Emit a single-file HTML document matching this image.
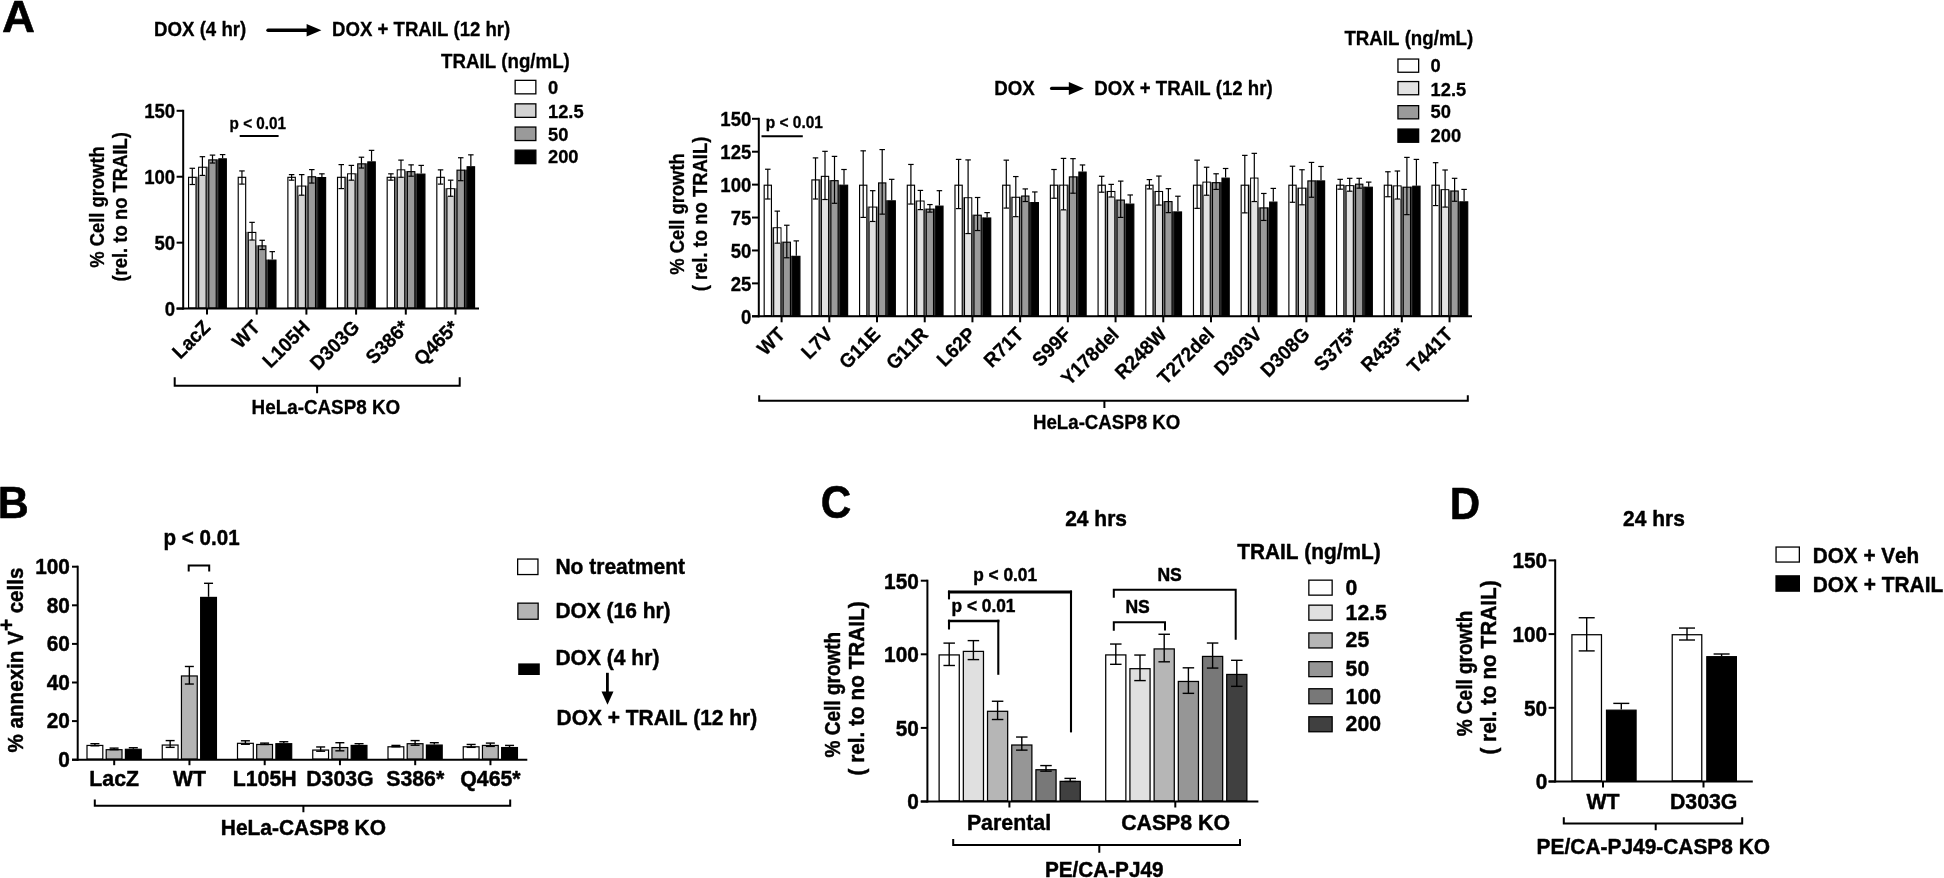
<!DOCTYPE html>
<html lang="en">
<head>
<meta charset="utf-8">
<title>Figure: CASP8 mutants and TRAIL sensitivity</title>
<style>
html,body{margin:0;padding:0;background:#fff;}
body{width:1944px;height:878px;overflow:hidden;}
svg{display:block;filter:blur(0.45px);}
svg text{font-family:"Liberation Sans",sans-serif;font-weight:bold;fill:#000;stroke:#000;stroke-width:0.3px;stroke-linejoin:round;font-kerning:none;}
svg text.big{stroke-width:0.6px;}
svg text.h{stroke-width:0.45px;}
</style>
</head>
<body>
<svg width="1944" height="878" viewBox="0 0 1944 878">
<rect x="0" y="0" width="1944" height="878" fill="#fff"/>
<text x="2.1" y="32.1" font-size="44.3" text-anchor="start" class="big" textLength="33" lengthAdjust="spacingAndGlyphs">A</text>
<text x="154" y="35.9" font-size="19.34" text-anchor="start" textLength="92.3" lengthAdjust="spacingAndGlyphs">DOX (4 hr)</text>
<line x1="268" y1="30.2" x2="307" y2="30.2" stroke="#000" stroke-width="3.4" stroke-linecap="round"/>
<polygon points="306.6,23.9 321.4,30.2 306.6,36.6" fill="#000"/>
<text x="332" y="35.9" font-size="19.34" text-anchor="start" textLength="178.3" lengthAdjust="spacingAndGlyphs">DOX + TRAIL (12 hr)</text>
<text x="441" y="67.6" font-size="19.34" text-anchor="start" textLength="128.8" lengthAdjust="spacingAndGlyphs">TRAIL (ng/mL)</text>
<rect x="515.15" y="80.35" width="20.7" height="13.5" fill="#fff" stroke="#000" stroke-width="1.3"/>
<text x="548" y="93.8" font-size="19.03" text-anchor="start" textLength="10.18" lengthAdjust="spacingAndGlyphs">0</text>
<rect x="515.15" y="103.85" width="20.7" height="13.5" fill="#d3d3d3" stroke="#000" stroke-width="1.3"/>
<text x="548" y="117.6" font-size="19.03" text-anchor="start" textLength="35.62" lengthAdjust="spacingAndGlyphs">12.5</text>
<rect x="515.15" y="127.05" width="20.7" height="13.5" fill="#9a9a9a" stroke="#000" stroke-width="1.3"/>
<text x="548" y="140.7" font-size="19.03" text-anchor="start" textLength="20.36" lengthAdjust="spacingAndGlyphs">50</text>
<rect x="515.15" y="150.15" width="20.7" height="13.5" fill="#000" stroke="#000" stroke-width="1.3"/>
<text x="548" y="163.3" font-size="19.03" text-anchor="start" textLength="30.53" lengthAdjust="spacingAndGlyphs">200</text>
<rect x="196.03" y="176.73" width="2.65" height="131.87" fill="#8c8c8c"/>
<rect x="206.12" y="166.71" width="2.65" height="141.89" fill="#7c7c7c"/>
<rect x="216.22" y="159.32" width="2.65" height="149.28" fill="#3c3c3c"/>
<rect x="188.57" y="177.31" width="7.45" height="130.72" fill="#fff" stroke="#000" stroke-width="1.15"/>
<rect x="198.67" y="167.28" width="7.45" height="140.74" fill="#d3d3d3" stroke="#000" stroke-width="1.15"/>
<rect x="199.25" y="167.86" width="6.3" height="7.55" fill="#fff"/>
<rect x="208.77" y="159.9" width="7.45" height="148.13" fill="#9a9a9a" stroke="#000" stroke-width="1.15"/>
<rect x="218.88" y="158.84" width="7.45" height="149.18" fill="#000" stroke="#000" stroke-width="1.15"/>
<line x1="192.3" y1="168.29" x2="192.3" y2="184.51" stroke="#000" stroke-width="1.2" stroke-linecap="butt"/>
<line x1="189.55" y1="168.29" x2="195.05" y2="168.29" stroke="#000" stroke-width="1.2" stroke-linecap="butt"/>
<line x1="189.55" y1="184.51" x2="195.05" y2="184.51" stroke="#000" stroke-width="1.2" stroke-linecap="butt"/>
<line x1="202.4" y1="156.69" x2="202.4" y2="175.41" stroke="#000" stroke-width="1.2" stroke-linecap="butt"/>
<line x1="199.65" y1="156.69" x2="205.15" y2="156.69" stroke="#000" stroke-width="1.2" stroke-linecap="butt"/>
<line x1="199.65" y1="175.41" x2="205.15" y2="175.41" stroke="#000" stroke-width="1.2" stroke-linecap="butt"/>
<line x1="212.5" y1="155.1" x2="212.5" y2="163.02" stroke="#000" stroke-width="1.2" stroke-linecap="butt"/>
<line x1="209.75" y1="155.1" x2="215.25" y2="155.1" stroke="#000" stroke-width="1.2" stroke-linecap="butt"/>
<line x1="209.75" y1="163.02" x2="215.25" y2="163.02" stroke="#000" stroke-width="1.2" stroke-linecap="butt"/>
<line x1="222.6" y1="154.58" x2="222.6" y2="158.27" stroke="#000" stroke-width="1.2" stroke-linecap="butt"/>
<line x1="219.85" y1="154.58" x2="225.35" y2="154.58" stroke="#000" stroke-width="1.2" stroke-linecap="butt"/>
<rect x="245.68" y="231.85" width="2.65" height="76.75" fill="#8c8c8c"/>
<rect x="255.78" y="245.3" width="2.65" height="63.3" fill="#7c7c7c"/>
<rect x="265.88" y="259.54" width="2.65" height="49.06" fill="#3c3c3c"/>
<rect x="238.22" y="177.31" width="7.45" height="130.72" fill="#fff" stroke="#000" stroke-width="1.15"/>
<rect x="248.32" y="232.43" width="7.45" height="75.6" fill="#d3d3d3" stroke="#000" stroke-width="1.15"/>
<rect x="248.9" y="233" width="6.3" height="7.03" fill="#fff"/>
<rect x="258.43" y="245.88" width="7.45" height="62.15" fill="#9a9a9a" stroke="#000" stroke-width="1.15"/>
<rect x="268.52" y="260.12" width="7.45" height="47.91" fill="#000" stroke="#000" stroke-width="1.15"/>
<line x1="241.95" y1="170.93" x2="241.95" y2="184.11" stroke="#000" stroke-width="1.2" stroke-linecap="butt"/>
<line x1="239.2" y1="170.93" x2="244.7" y2="170.93" stroke="#000" stroke-width="1.2" stroke-linecap="butt"/>
<line x1="239.2" y1="184.11" x2="244.7" y2="184.11" stroke="#000" stroke-width="1.2" stroke-linecap="butt"/>
<line x1="252.05" y1="222.36" x2="252.05" y2="240.03" stroke="#000" stroke-width="1.2" stroke-linecap="butt"/>
<line x1="249.3" y1="222.36" x2="254.8" y2="222.36" stroke="#000" stroke-width="1.2" stroke-linecap="butt"/>
<line x1="249.3" y1="240.03" x2="254.8" y2="240.03" stroke="#000" stroke-width="1.2" stroke-linecap="butt"/>
<line x1="262.15" y1="240.29" x2="262.15" y2="249.52" stroke="#000" stroke-width="1.2" stroke-linecap="butt"/>
<line x1="259.4" y1="240.29" x2="264.9" y2="240.29" stroke="#000" stroke-width="1.2" stroke-linecap="butt"/>
<line x1="259.4" y1="249.52" x2="264.9" y2="249.52" stroke="#000" stroke-width="1.2" stroke-linecap="butt"/>
<line x1="272.25" y1="251.63" x2="272.25" y2="259.54" stroke="#000" stroke-width="1.2" stroke-linecap="butt"/>
<line x1="269.5" y1="251.63" x2="275" y2="251.63" stroke="#000" stroke-width="1.2" stroke-linecap="butt"/>
<rect x="295.33" y="185.57" width="2.65" height="123.03" fill="#8c8c8c"/>
<rect x="305.43" y="185.57" width="2.65" height="123.03" fill="#7c7c7c"/>
<rect x="315.53" y="176.99" width="2.65" height="131.61" fill="#3c3c3c"/>
<rect x="287.88" y="177.31" width="7.45" height="130.72" fill="#fff" stroke="#000" stroke-width="1.15"/>
<rect x="297.98" y="186.14" width="7.45" height="121.88" fill="#d3d3d3" stroke="#000" stroke-width="1.15"/>
<rect x="298.55" y="186.72" width="6.3" height="8.48" fill="#fff"/>
<rect x="308.07" y="176.78" width="7.45" height="131.25" fill="#9a9a9a" stroke="#000" stroke-width="1.15"/>
<rect x="318.18" y="177.57" width="7.45" height="130.46" fill="#000" stroke="#000" stroke-width="1.15"/>
<line x1="291.6" y1="174.62" x2="291.6" y2="180.16" stroke="#000" stroke-width="1.2" stroke-linecap="butt"/>
<line x1="288.85" y1="174.62" x2="294.35" y2="174.62" stroke="#000" stroke-width="1.2" stroke-linecap="butt"/>
<line x1="288.85" y1="180.16" x2="294.35" y2="180.16" stroke="#000" stroke-width="1.2" stroke-linecap="butt"/>
<line x1="301.7" y1="174.62" x2="301.7" y2="195.19" stroke="#000" stroke-width="1.2" stroke-linecap="butt"/>
<line x1="298.95" y1="174.62" x2="304.45" y2="174.62" stroke="#000" stroke-width="1.2" stroke-linecap="butt"/>
<line x1="298.95" y1="195.19" x2="304.45" y2="195.19" stroke="#000" stroke-width="1.2" stroke-linecap="butt"/>
<line x1="311.8" y1="169.61" x2="311.8" y2="183.06" stroke="#000" stroke-width="1.2" stroke-linecap="butt"/>
<line x1="309.05" y1="169.61" x2="314.55" y2="169.61" stroke="#000" stroke-width="1.2" stroke-linecap="butt"/>
<line x1="309.05" y1="183.06" x2="314.55" y2="183.06" stroke="#000" stroke-width="1.2" stroke-linecap="butt"/>
<line x1="321.9" y1="173.83" x2="321.9" y2="176.99" stroke="#000" stroke-width="1.2" stroke-linecap="butt"/>
<line x1="319.15" y1="173.83" x2="324.65" y2="173.83" stroke="#000" stroke-width="1.2" stroke-linecap="butt"/>
<rect x="344.98" y="176.73" width="2.65" height="131.87" fill="#8c8c8c"/>
<rect x="355.08" y="173.3" width="2.65" height="135.3" fill="#7c7c7c"/>
<rect x="365.18" y="163.28" width="2.65" height="145.32" fill="#3c3c3c"/>
<rect x="337.52" y="177.31" width="7.45" height="130.72" fill="#fff" stroke="#000" stroke-width="1.15"/>
<rect x="347.62" y="173.88" width="7.45" height="134.15" fill="#d3d3d3" stroke="#000" stroke-width="1.15"/>
<rect x="348.2" y="174.45" width="6.3" height="5.71" fill="#fff"/>
<rect x="357.72" y="163.85" width="7.45" height="144.17" fill="#9a9a9a" stroke="#000" stroke-width="1.15"/>
<rect x="367.82" y="161.88" width="7.45" height="146.15" fill="#000" stroke="#000" stroke-width="1.15"/>
<line x1="341.25" y1="164.6" x2="341.25" y2="188.6" stroke="#000" stroke-width="1.2" stroke-linecap="butt"/>
<line x1="338.5" y1="164.6" x2="344" y2="164.6" stroke="#000" stroke-width="1.2" stroke-linecap="butt"/>
<line x1="338.5" y1="188.6" x2="344" y2="188.6" stroke="#000" stroke-width="1.2" stroke-linecap="butt"/>
<line x1="351.35" y1="165.39" x2="351.35" y2="180.16" stroke="#000" stroke-width="1.2" stroke-linecap="butt"/>
<line x1="348.6" y1="165.39" x2="354.1" y2="165.39" stroke="#000" stroke-width="1.2" stroke-linecap="butt"/>
<line x1="348.6" y1="180.16" x2="354.1" y2="180.16" stroke="#000" stroke-width="1.2" stroke-linecap="butt"/>
<line x1="361.45" y1="157.21" x2="361.45" y2="168.03" stroke="#000" stroke-width="1.2" stroke-linecap="butt"/>
<line x1="358.7" y1="157.21" x2="364.2" y2="157.21" stroke="#000" stroke-width="1.2" stroke-linecap="butt"/>
<line x1="358.7" y1="168.03" x2="364.2" y2="168.03" stroke="#000" stroke-width="1.2" stroke-linecap="butt"/>
<line x1="371.55" y1="150.36" x2="371.55" y2="161.3" stroke="#000" stroke-width="1.2" stroke-linecap="butt"/>
<line x1="368.8" y1="150.36" x2="374.3" y2="150.36" stroke="#000" stroke-width="1.2" stroke-linecap="butt"/>
<rect x="394.63" y="176.73" width="2.65" height="131.87" fill="#8c8c8c"/>
<rect x="404.73" y="171.06" width="2.65" height="137.54" fill="#7c7c7c"/>
<rect x="414.83" y="173.57" width="2.65" height="135.03" fill="#3c3c3c"/>
<rect x="387.18" y="177.31" width="7.45" height="130.72" fill="#fff" stroke="#000" stroke-width="1.15"/>
<rect x="397.28" y="169.92" width="7.45" height="138.1" fill="#d3d3d3" stroke="#000" stroke-width="1.15"/>
<rect x="397.85" y="170.5" width="6.3" height="6.76" fill="#fff"/>
<rect x="407.38" y="171.63" width="7.45" height="136.39" fill="#9a9a9a" stroke="#000" stroke-width="1.15"/>
<rect x="417.48" y="174.14" width="7.45" height="133.88" fill="#000" stroke="#000" stroke-width="1.15"/>
<line x1="390.9" y1="173.83" x2="390.9" y2="180.16" stroke="#000" stroke-width="1.2" stroke-linecap="butt"/>
<line x1="388.15" y1="173.83" x2="393.65" y2="173.83" stroke="#000" stroke-width="1.2" stroke-linecap="butt"/>
<line x1="388.15" y1="180.16" x2="393.65" y2="180.16" stroke="#000" stroke-width="1.2" stroke-linecap="butt"/>
<line x1="401" y1="160.11" x2="401" y2="177.26" stroke="#000" stroke-width="1.2" stroke-linecap="butt"/>
<line x1="398.25" y1="160.11" x2="403.75" y2="160.11" stroke="#000" stroke-width="1.2" stroke-linecap="butt"/>
<line x1="398.25" y1="177.26" x2="403.75" y2="177.26" stroke="#000" stroke-width="1.2" stroke-linecap="butt"/>
<line x1="411.1" y1="164.86" x2="411.1" y2="176.2" stroke="#000" stroke-width="1.2" stroke-linecap="butt"/>
<line x1="408.35" y1="164.86" x2="413.85" y2="164.86" stroke="#000" stroke-width="1.2" stroke-linecap="butt"/>
<line x1="408.35" y1="176.2" x2="413.85" y2="176.2" stroke="#000" stroke-width="1.2" stroke-linecap="butt"/>
<line x1="421.2" y1="165.39" x2="421.2" y2="173.57" stroke="#000" stroke-width="1.2" stroke-linecap="butt"/>
<line x1="418.45" y1="165.39" x2="423.95" y2="165.39" stroke="#000" stroke-width="1.2" stroke-linecap="butt"/>
<rect x="444.28" y="188.2" width="2.65" height="120.4" fill="#8c8c8c"/>
<rect x="454.38" y="188.2" width="2.65" height="120.4" fill="#7c7c7c"/>
<rect x="464.48" y="169.61" width="2.65" height="138.99" fill="#3c3c3c"/>
<rect x="436.82" y="177.31" width="7.45" height="130.72" fill="#fff" stroke="#000" stroke-width="1.15"/>
<rect x="446.93" y="188.78" width="7.45" height="119.25" fill="#d3d3d3" stroke="#000" stroke-width="1.15"/>
<rect x="447.5" y="189.35" width="6.3" height="6.89" fill="#fff"/>
<rect x="457.02" y="170.18" width="7.45" height="137.84" fill="#9a9a9a" stroke="#000" stroke-width="1.15"/>
<rect x="467.12" y="166.76" width="7.45" height="141.27" fill="#000" stroke="#000" stroke-width="1.15"/>
<line x1="440.55" y1="169.87" x2="440.55" y2="184.11" stroke="#000" stroke-width="1.2" stroke-linecap="butt"/>
<line x1="437.8" y1="169.87" x2="443.3" y2="169.87" stroke="#000" stroke-width="1.2" stroke-linecap="butt"/>
<line x1="437.8" y1="184.11" x2="443.3" y2="184.11" stroke="#000" stroke-width="1.2" stroke-linecap="butt"/>
<line x1="450.65" y1="180.16" x2="450.65" y2="196.25" stroke="#000" stroke-width="1.2" stroke-linecap="butt"/>
<line x1="447.9" y1="180.16" x2="453.4" y2="180.16" stroke="#000" stroke-width="1.2" stroke-linecap="butt"/>
<line x1="447.9" y1="196.25" x2="453.4" y2="196.25" stroke="#000" stroke-width="1.2" stroke-linecap="butt"/>
<line x1="460.75" y1="157.74" x2="460.75" y2="180.69" stroke="#000" stroke-width="1.2" stroke-linecap="butt"/>
<line x1="458" y1="157.74" x2="463.5" y2="157.74" stroke="#000" stroke-width="1.2" stroke-linecap="butt"/>
<line x1="458" y1="180.69" x2="463.5" y2="180.69" stroke="#000" stroke-width="1.2" stroke-linecap="butt"/>
<line x1="470.85" y1="154.84" x2="470.85" y2="166.18" stroke="#000" stroke-width="1.2" stroke-linecap="butt"/>
<line x1="468.1" y1="154.84" x2="473.6" y2="154.84" stroke="#000" stroke-width="1.2" stroke-linecap="butt"/>
<line x1="183.2" y1="109.8" x2="183.2" y2="309.6" stroke="#000" stroke-width="2" stroke-linecap="butt"/>
<line x1="176.6" y1="308.6" x2="479" y2="308.6" stroke="#000" stroke-width="2" stroke-linecap="butt"/>
<line x1="176.6" y1="308.6" x2="183.2" y2="308.6" stroke="#000" stroke-width="2" stroke-linecap="butt"/>
<text x="175.2" y="315.8" font-size="19.34" text-anchor="end" textLength="10.34" lengthAdjust="spacingAndGlyphs">0</text>
<line x1="176.6" y1="242.67" x2="183.2" y2="242.67" stroke="#000" stroke-width="2" stroke-linecap="butt"/>
<text x="175.2" y="249.87" font-size="19.34" text-anchor="end" textLength="20.69" lengthAdjust="spacingAndGlyphs">50</text>
<line x1="176.6" y1="176.73" x2="183.2" y2="176.73" stroke="#000" stroke-width="2" stroke-linecap="butt"/>
<text x="175.2" y="183.93" font-size="19.34" text-anchor="end" textLength="31.03" lengthAdjust="spacingAndGlyphs">100</text>
<line x1="176.6" y1="110.8" x2="183.2" y2="110.8" stroke="#000" stroke-width="2" stroke-linecap="butt"/>
<text x="175.2" y="118" font-size="19.34" text-anchor="end" textLength="31.03" lengthAdjust="spacingAndGlyphs">150</text>
<line x1="207" y1="308.6" x2="207" y2="314.6" stroke="#000" stroke-width="2" stroke-linecap="butt"/>
<line x1="256.7" y1="308.6" x2="256.7" y2="314.6" stroke="#000" stroke-width="2" stroke-linecap="butt"/>
<line x1="306.4" y1="308.6" x2="306.4" y2="314.6" stroke="#000" stroke-width="2" stroke-linecap="butt"/>
<line x1="356.1" y1="308.6" x2="356.1" y2="314.6" stroke="#000" stroke-width="2" stroke-linecap="butt"/>
<line x1="405.8" y1="308.6" x2="405.8" y2="314.6" stroke="#000" stroke-width="2" stroke-linecap="butt"/>
<line x1="455.5" y1="308.6" x2="455.5" y2="314.6" stroke="#000" stroke-width="2" stroke-linecap="butt"/>
<text x="229.6" y="129" font-size="16.22" text-anchor="start" textLength="56.5" lengthAdjust="spacingAndGlyphs">p &lt; 0.01</text>
<line x1="239.7" y1="136" x2="278.6" y2="136" stroke="#000" stroke-width="2" stroke-linecap="butt"/>
<text x="211.55" y="328.65" font-size="19.76" text-anchor="end" transform="rotate(-45 211.55 328.65)" textLength="44.35" lengthAdjust="spacingAndGlyphs">LacZ</text>
<text x="261.25" y="328.65" font-size="19.76" text-anchor="end" transform="rotate(-45 261.25 328.65)" textLength="29.54" lengthAdjust="spacingAndGlyphs">WT</text>
<text x="310.95" y="328.65" font-size="19.76" text-anchor="end" transform="rotate(-45 310.95 328.65)" textLength="57.03" lengthAdjust="spacingAndGlyphs">L105H</text>
<text x="360.65" y="328.65" font-size="19.76" text-anchor="end" transform="rotate(-45 360.65 328.65)" textLength="60.2" lengthAdjust="spacingAndGlyphs">D303G</text>
<text x="410.35" y="328.65" font-size="19.76" text-anchor="end" transform="rotate(-45 410.35 328.65)" textLength="51.77" lengthAdjust="spacingAndGlyphs">S386*</text>
<text x="460.05" y="328.65" font-size="19.76" text-anchor="end" transform="rotate(-45 460.05 328.65)" textLength="53.87" lengthAdjust="spacingAndGlyphs">Q465*</text>
<path d="M174.7 377.3 V385.8 H459.7 V377.3 M317.1 385.8 V393.3" fill="none" stroke="#000" stroke-width="2"/>
<text x="251.6" y="413.7" font-size="19.34" text-anchor="start" textLength="148.6" lengthAdjust="spacingAndGlyphs">HeLa-CASP8 KO</text>
<text x="104.2" y="207" font-size="19.34" text-anchor="middle" transform="rotate(-90 104.2 207)" textLength="121.5" lengthAdjust="spacingAndGlyphs">% Cell growth</text>
<text x="126.6" y="206.8" font-size="19.34" text-anchor="middle" transform="rotate(-90 126.6 206.8)" textLength="149.6" lengthAdjust="spacingAndGlyphs">(rel. to no TRAIL)</text>
<text x="994.2" y="94.9" font-size="19.34" text-anchor="start" textLength="40.5" lengthAdjust="spacingAndGlyphs">DOX</text>
<line x1="1051.6" y1="88.4" x2="1070" y2="88.4" stroke="#000" stroke-width="3.3" stroke-linecap="round"/>
<polygon points="1068.8,82 1083.9,88.5 1068.8,95" fill="#000"/>
<text x="1094.3" y="94.9" font-size="19.34" text-anchor="start" textLength="178.3" lengthAdjust="spacingAndGlyphs">DOX + TRAIL (12 hr)</text>
<text x="1344.4" y="45.1" font-size="19.34" text-anchor="start" textLength="128.8" lengthAdjust="spacingAndGlyphs">TRAIL (ng/mL)</text>
<rect x="1397.95" y="59.05" width="20.7" height="13.2" fill="#fff" stroke="#000" stroke-width="1.3"/>
<text x="1430.6" y="72.3" font-size="19.03" text-anchor="start" textLength="10.18" lengthAdjust="spacingAndGlyphs">0</text>
<rect x="1397.95" y="81.55" width="20.7" height="13.2" fill="#e2e2e2" stroke="#000" stroke-width="1.3"/>
<text x="1430.6" y="95.6" font-size="19.03" text-anchor="start" textLength="35.62" lengthAdjust="spacingAndGlyphs">12.5</text>
<rect x="1397.95" y="105.65" width="20.7" height="13.2" fill="#9a9a9a" stroke="#000" stroke-width="1.3"/>
<text x="1430.6" y="118.2" font-size="19.03" text-anchor="start" textLength="20.36" lengthAdjust="spacingAndGlyphs">50</text>
<rect x="1397.95" y="129.05" width="20.7" height="13.2" fill="#000" stroke="#000" stroke-width="1.3"/>
<text x="1430.6" y="142.2" font-size="19.03" text-anchor="start" textLength="30.53" lengthAdjust="spacingAndGlyphs">200</text>
<rect x="771.42" y="227.26" width="2.25" height="89.04" fill="#8c8c8c"/>
<rect x="780.92" y="241.64" width="2.25" height="74.66" fill="#7c7c7c"/>
<rect x="790.42" y="255.76" width="2.25" height="60.54" fill="#3c3c3c"/>
<rect x="764.18" y="185.21" width="7.25" height="130.52" fill="#fff" stroke="#000" stroke-width="1.15"/>
<rect x="773.68" y="227.83" width="7.25" height="87.89" fill="#e2e2e2" stroke="#000" stroke-width="1.15"/>
<rect x="774.25" y="228.41" width="6.1" height="14.74" fill="#fff"/>
<rect x="783.18" y="242.21" width="7.25" height="73.51" fill="#9a9a9a" stroke="#000" stroke-width="1.15"/>
<rect x="792.68" y="256.34" width="7.25" height="59.39" fill="#000" stroke="#000" stroke-width="1.15"/>
<line x1="767.8" y1="169.24" x2="767.8" y2="199.01" stroke="#000" stroke-width="1.2" stroke-linecap="butt"/>
<line x1="765.05" y1="169.24" x2="770.55" y2="169.24" stroke="#000" stroke-width="1.2" stroke-linecap="butt"/>
<line x1="765.05" y1="199.01" x2="770.55" y2="199.01" stroke="#000" stroke-width="1.2" stroke-linecap="butt"/>
<line x1="777.3" y1="211.12" x2="777.3" y2="243.15" stroke="#000" stroke-width="1.2" stroke-linecap="butt"/>
<line x1="774.55" y1="211.12" x2="780.05" y2="211.12" stroke="#000" stroke-width="1.2" stroke-linecap="butt"/>
<line x1="774.55" y1="243.15" x2="780.05" y2="243.15" stroke="#000" stroke-width="1.2" stroke-linecap="butt"/>
<line x1="786.8" y1="225.24" x2="786.8" y2="257.78" stroke="#000" stroke-width="1.2" stroke-linecap="butt"/>
<line x1="784.05" y1="225.24" x2="789.55" y2="225.24" stroke="#000" stroke-width="1.2" stroke-linecap="butt"/>
<line x1="784.05" y1="257.78" x2="789.55" y2="257.78" stroke="#000" stroke-width="1.2" stroke-linecap="butt"/>
<line x1="796.3" y1="240.88" x2="796.3" y2="255.76" stroke="#000" stroke-width="1.2" stroke-linecap="butt"/>
<line x1="793.55" y1="240.88" x2="799.05" y2="240.88" stroke="#000" stroke-width="1.2" stroke-linecap="butt"/>
<rect x="819.12" y="179.33" width="2.25" height="136.97" fill="#8c8c8c"/>
<rect x="828.62" y="180.09" width="2.25" height="136.21" fill="#7c7c7c"/>
<rect x="838.12" y="184.63" width="2.25" height="131.67" fill="#3c3c3c"/>
<rect x="811.88" y="179.91" width="7.25" height="135.82" fill="#fff" stroke="#000" stroke-width="1.15"/>
<rect x="821.38" y="176.38" width="7.25" height="139.35" fill="#e2e2e2" stroke="#000" stroke-width="1.15"/>
<rect x="821.95" y="176.95" width="6.1" height="22.56" fill="#fff"/>
<rect x="830.88" y="180.66" width="7.25" height="135.06" fill="#9a9a9a" stroke="#000" stroke-width="1.15"/>
<rect x="840.38" y="185.21" width="7.25" height="130.52" fill="#000" stroke="#000" stroke-width="1.15"/>
<line x1="815.5" y1="157.89" x2="815.5" y2="199.01" stroke="#000" stroke-width="1.2" stroke-linecap="butt"/>
<line x1="812.75" y1="157.89" x2="818.25" y2="157.89" stroke="#000" stroke-width="1.2" stroke-linecap="butt"/>
<line x1="812.75" y1="199.01" x2="818.25" y2="199.01" stroke="#000" stroke-width="1.2" stroke-linecap="butt"/>
<line x1="825" y1="151.33" x2="825" y2="199.51" stroke="#000" stroke-width="1.2" stroke-linecap="butt"/>
<line x1="822.25" y1="151.33" x2="827.75" y2="151.33" stroke="#000" stroke-width="1.2" stroke-linecap="butt"/>
<line x1="822.25" y1="199.51" x2="827.75" y2="199.51" stroke="#000" stroke-width="1.2" stroke-linecap="butt"/>
<line x1="834.5" y1="156.38" x2="834.5" y2="203.3" stroke="#000" stroke-width="1.2" stroke-linecap="butt"/>
<line x1="831.75" y1="156.38" x2="837.25" y2="156.38" stroke="#000" stroke-width="1.2" stroke-linecap="butt"/>
<line x1="831.75" y1="203.3" x2="837.25" y2="203.3" stroke="#000" stroke-width="1.2" stroke-linecap="butt"/>
<line x1="844" y1="169.5" x2="844" y2="184.63" stroke="#000" stroke-width="1.2" stroke-linecap="butt"/>
<line x1="841.25" y1="169.5" x2="846.75" y2="169.5" stroke="#000" stroke-width="1.2" stroke-linecap="butt"/>
<rect x="866.82" y="206.57" width="2.25" height="109.73" fill="#8c8c8c"/>
<rect x="876.32" y="206.57" width="2.25" height="109.73" fill="#7c7c7c"/>
<rect x="885.82" y="200.27" width="2.25" height="116.03" fill="#3c3c3c"/>
<rect x="859.58" y="185.21" width="7.25" height="130.52" fill="#fff" stroke="#000" stroke-width="1.15"/>
<rect x="869.08" y="207.15" width="7.25" height="108.58" fill="#e2e2e2" stroke="#000" stroke-width="1.15"/>
<rect x="869.65" y="207.72" width="6.1" height="13.73" fill="#fff"/>
<rect x="878.58" y="182.93" width="7.25" height="132.79" fill="#9a9a9a" stroke="#000" stroke-width="1.15"/>
<rect x="888.08" y="200.84" width="7.25" height="114.88" fill="#000" stroke="#000" stroke-width="1.15"/>
<line x1="863.2" y1="150.83" x2="863.2" y2="217.42" stroke="#000" stroke-width="1.2" stroke-linecap="butt"/>
<line x1="860.45" y1="150.83" x2="865.95" y2="150.83" stroke="#000" stroke-width="1.2" stroke-linecap="butt"/>
<line x1="860.45" y1="217.42" x2="865.95" y2="217.42" stroke="#000" stroke-width="1.2" stroke-linecap="butt"/>
<line x1="872.7" y1="190.68" x2="872.7" y2="221.46" stroke="#000" stroke-width="1.2" stroke-linecap="butt"/>
<line x1="869.95" y1="190.68" x2="875.45" y2="190.68" stroke="#000" stroke-width="1.2" stroke-linecap="butt"/>
<line x1="869.95" y1="221.46" x2="875.45" y2="221.46" stroke="#000" stroke-width="1.2" stroke-linecap="butt"/>
<line x1="882.2" y1="149.57" x2="882.2" y2="214.14" stroke="#000" stroke-width="1.2" stroke-linecap="butt"/>
<line x1="879.45" y1="149.57" x2="884.95" y2="149.57" stroke="#000" stroke-width="1.2" stroke-linecap="butt"/>
<line x1="879.45" y1="214.14" x2="884.95" y2="214.14" stroke="#000" stroke-width="1.2" stroke-linecap="butt"/>
<line x1="891.7" y1="179.33" x2="891.7" y2="200.27" stroke="#000" stroke-width="1.2" stroke-linecap="butt"/>
<line x1="888.95" y1="179.33" x2="894.45" y2="179.33" stroke="#000" stroke-width="1.2" stroke-linecap="butt"/>
<rect x="914.52" y="200.52" width="2.25" height="115.78" fill="#8c8c8c"/>
<rect x="924.02" y="208.59" width="2.25" height="107.71" fill="#7c7c7c"/>
<rect x="933.52" y="208.59" width="2.25" height="107.71" fill="#3c3c3c"/>
<rect x="907.28" y="185.21" width="7.25" height="130.52" fill="#fff" stroke="#000" stroke-width="1.15"/>
<rect x="916.78" y="201.1" width="7.25" height="114.63" fill="#e2e2e2" stroke="#000" stroke-width="1.15"/>
<rect x="917.35" y="201.67" width="6.1" height="7.93" fill="#fff"/>
<rect x="926.28" y="209.17" width="7.25" height="106.56" fill="#9a9a9a" stroke="#000" stroke-width="1.15"/>
<rect x="935.78" y="206.14" width="7.25" height="109.58" fill="#000" stroke="#000" stroke-width="1.15"/>
<line x1="910.9" y1="164.45" x2="910.9" y2="204.05" stroke="#000" stroke-width="1.2" stroke-linecap="butt"/>
<line x1="908.15" y1="164.45" x2="913.65" y2="164.45" stroke="#000" stroke-width="1.2" stroke-linecap="butt"/>
<line x1="908.15" y1="204.05" x2="913.65" y2="204.05" stroke="#000" stroke-width="1.2" stroke-linecap="butt"/>
<line x1="920.4" y1="190.43" x2="920.4" y2="209.6" stroke="#000" stroke-width="1.2" stroke-linecap="butt"/>
<line x1="917.65" y1="190.43" x2="923.15" y2="190.43" stroke="#000" stroke-width="1.2" stroke-linecap="butt"/>
<line x1="917.65" y1="209.6" x2="923.15" y2="209.6" stroke="#000" stroke-width="1.2" stroke-linecap="butt"/>
<line x1="929.9" y1="204.56" x2="929.9" y2="212.12" stroke="#000" stroke-width="1.2" stroke-linecap="butt"/>
<line x1="927.15" y1="204.56" x2="932.65" y2="204.56" stroke="#000" stroke-width="1.2" stroke-linecap="butt"/>
<line x1="927.15" y1="212.12" x2="932.65" y2="212.12" stroke="#000" stroke-width="1.2" stroke-linecap="butt"/>
<line x1="939.4" y1="190.68" x2="939.4" y2="205.57" stroke="#000" stroke-width="1.2" stroke-linecap="butt"/>
<line x1="936.65" y1="190.68" x2="942.15" y2="190.68" stroke="#000" stroke-width="1.2" stroke-linecap="butt"/>
<rect x="962.23" y="197.24" width="2.25" height="119.06" fill="#8c8c8c"/>
<rect x="971.73" y="214.65" width="2.25" height="101.65" fill="#7c7c7c"/>
<rect x="981.23" y="217.42" width="2.25" height="98.88" fill="#3c3c3c"/>
<rect x="954.98" y="185.21" width="7.25" height="130.52" fill="#fff" stroke="#000" stroke-width="1.15"/>
<rect x="964.48" y="197.82" width="7.25" height="117.91" fill="#e2e2e2" stroke="#000" stroke-width="1.15"/>
<rect x="965.05" y="198.39" width="6.1" height="35.17" fill="#fff"/>
<rect x="973.98" y="215.22" width="7.25" height="100.5" fill="#9a9a9a" stroke="#000" stroke-width="1.15"/>
<rect x="983.48" y="218" width="7.25" height="97.73" fill="#000" stroke="#000" stroke-width="1.15"/>
<line x1="958.6" y1="159.41" x2="958.6" y2="208.59" stroke="#000" stroke-width="1.2" stroke-linecap="butt"/>
<line x1="955.85" y1="159.41" x2="961.35" y2="159.41" stroke="#000" stroke-width="1.2" stroke-linecap="butt"/>
<line x1="955.85" y1="208.59" x2="961.35" y2="208.59" stroke="#000" stroke-width="1.2" stroke-linecap="butt"/>
<line x1="968.1" y1="159.91" x2="968.1" y2="233.56" stroke="#000" stroke-width="1.2" stroke-linecap="butt"/>
<line x1="965.35" y1="159.91" x2="970.85" y2="159.91" stroke="#000" stroke-width="1.2" stroke-linecap="butt"/>
<line x1="965.35" y1="233.56" x2="970.85" y2="233.56" stroke="#000" stroke-width="1.2" stroke-linecap="butt"/>
<line x1="977.6" y1="197.49" x2="977.6" y2="230.54" stroke="#000" stroke-width="1.2" stroke-linecap="butt"/>
<line x1="974.85" y1="197.49" x2="980.35" y2="197.49" stroke="#000" stroke-width="1.2" stroke-linecap="butt"/>
<line x1="974.85" y1="230.54" x2="980.35" y2="230.54" stroke="#000" stroke-width="1.2" stroke-linecap="butt"/>
<line x1="987.1" y1="212.63" x2="987.1" y2="217.42" stroke="#000" stroke-width="1.2" stroke-linecap="butt"/>
<line x1="984.35" y1="212.63" x2="989.85" y2="212.63" stroke="#000" stroke-width="1.2" stroke-linecap="butt"/>
<rect x="1009.92" y="196.74" width="2.25" height="119.56" fill="#8c8c8c"/>
<rect x="1019.42" y="196.74" width="2.25" height="119.56" fill="#7c7c7c"/>
<rect x="1028.92" y="202.03" width="2.25" height="114.27" fill="#3c3c3c"/>
<rect x="1002.68" y="185.21" width="7.25" height="130.52" fill="#fff" stroke="#000" stroke-width="1.15"/>
<rect x="1012.18" y="197.31" width="7.25" height="118.41" fill="#e2e2e2" stroke="#000" stroke-width="1.15"/>
<rect x="1012.75" y="197.89" width="6.1" height="18.78" fill="#fff"/>
<rect x="1021.68" y="196.05" width="7.25" height="119.67" fill="#9a9a9a" stroke="#000" stroke-width="1.15"/>
<rect x="1031.17" y="202.61" width="7.25" height="113.12" fill="#000" stroke="#000" stroke-width="1.15"/>
<line x1="1006.3" y1="160.16" x2="1006.3" y2="208.09" stroke="#000" stroke-width="1.2" stroke-linecap="butt"/>
<line x1="1003.55" y1="160.16" x2="1009.05" y2="160.16" stroke="#000" stroke-width="1.2" stroke-linecap="butt"/>
<line x1="1003.55" y1="208.09" x2="1009.05" y2="208.09" stroke="#000" stroke-width="1.2" stroke-linecap="butt"/>
<line x1="1015.8" y1="176.56" x2="1015.8" y2="216.66" stroke="#000" stroke-width="1.2" stroke-linecap="butt"/>
<line x1="1013.05" y1="176.56" x2="1018.55" y2="176.56" stroke="#000" stroke-width="1.2" stroke-linecap="butt"/>
<line x1="1013.05" y1="216.66" x2="1018.55" y2="216.66" stroke="#000" stroke-width="1.2" stroke-linecap="butt"/>
<line x1="1025.3" y1="188.92" x2="1025.3" y2="201.53" stroke="#000" stroke-width="1.2" stroke-linecap="butt"/>
<line x1="1022.55" y1="188.92" x2="1028.05" y2="188.92" stroke="#000" stroke-width="1.2" stroke-linecap="butt"/>
<line x1="1022.55" y1="201.53" x2="1028.05" y2="201.53" stroke="#000" stroke-width="1.2" stroke-linecap="butt"/>
<line x1="1034.8" y1="191.95" x2="1034.8" y2="202.03" stroke="#000" stroke-width="1.2" stroke-linecap="butt"/>
<line x1="1032.05" y1="191.95" x2="1037.55" y2="191.95" stroke="#000" stroke-width="1.2" stroke-linecap="butt"/>
<rect x="1057.63" y="184.63" width="2.25" height="131.67" fill="#8c8c8c"/>
<rect x="1067.13" y="184.63" width="2.25" height="131.67" fill="#7c7c7c"/>
<rect x="1076.63" y="176.31" width="2.25" height="139.99" fill="#3c3c3c"/>
<rect x="1050.38" y="185.21" width="7.25" height="130.52" fill="#fff" stroke="#000" stroke-width="1.15"/>
<rect x="1059.88" y="185.21" width="7.25" height="130.52" fill="#e2e2e2" stroke="#000" stroke-width="1.15"/>
<rect x="1060.45" y="185.78" width="6.1" height="24.07" fill="#fff"/>
<rect x="1069.38" y="176.88" width="7.25" height="138.84" fill="#9a9a9a" stroke="#000" stroke-width="1.15"/>
<rect x="1078.88" y="172.09" width="7.25" height="143.64" fill="#000" stroke="#000" stroke-width="1.15"/>
<line x1="1054" y1="169.5" x2="1054" y2="198.25" stroke="#000" stroke-width="1.2" stroke-linecap="butt"/>
<line x1="1051.25" y1="169.5" x2="1056.75" y2="169.5" stroke="#000" stroke-width="1.2" stroke-linecap="butt"/>
<line x1="1051.25" y1="198.25" x2="1056.75" y2="198.25" stroke="#000" stroke-width="1.2" stroke-linecap="butt"/>
<line x1="1063.5" y1="158.4" x2="1063.5" y2="209.85" stroke="#000" stroke-width="1.2" stroke-linecap="butt"/>
<line x1="1060.75" y1="158.4" x2="1066.25" y2="158.4" stroke="#000" stroke-width="1.2" stroke-linecap="butt"/>
<line x1="1060.75" y1="209.85" x2="1066.25" y2="209.85" stroke="#000" stroke-width="1.2" stroke-linecap="butt"/>
<line x1="1073" y1="158.65" x2="1073" y2="193.21" stroke="#000" stroke-width="1.2" stroke-linecap="butt"/>
<line x1="1070.25" y1="158.65" x2="1075.75" y2="158.65" stroke="#000" stroke-width="1.2" stroke-linecap="butt"/>
<line x1="1070.25" y1="193.21" x2="1075.75" y2="193.21" stroke="#000" stroke-width="1.2" stroke-linecap="butt"/>
<line x1="1082.5" y1="164.96" x2="1082.5" y2="171.51" stroke="#000" stroke-width="1.2" stroke-linecap="butt"/>
<line x1="1079.75" y1="164.96" x2="1085.25" y2="164.96" stroke="#000" stroke-width="1.2" stroke-linecap="butt"/>
<rect x="1105.33" y="190.94" width="2.25" height="125.36" fill="#8c8c8c"/>
<rect x="1114.83" y="199.51" width="2.25" height="116.79" fill="#7c7c7c"/>
<rect x="1124.33" y="203.55" width="2.25" height="112.75" fill="#3c3c3c"/>
<rect x="1098.08" y="185.21" width="7.25" height="130.52" fill="#fff" stroke="#000" stroke-width="1.15"/>
<rect x="1107.58" y="191.51" width="7.25" height="124.21" fill="#e2e2e2" stroke="#000" stroke-width="1.15"/>
<rect x="1108.15" y="192.09" width="6.1" height="4.9" fill="#fff"/>
<rect x="1117.08" y="200.09" width="7.25" height="115.64" fill="#9a9a9a" stroke="#000" stroke-width="1.15"/>
<rect x="1126.58" y="204.12" width="7.25" height="111.6" fill="#000" stroke="#000" stroke-width="1.15"/>
<line x1="1101.7" y1="176.31" x2="1101.7" y2="192.2" stroke="#000" stroke-width="1.2" stroke-linecap="butt"/>
<line x1="1098.95" y1="176.31" x2="1104.45" y2="176.31" stroke="#000" stroke-width="1.2" stroke-linecap="butt"/>
<line x1="1098.95" y1="192.2" x2="1104.45" y2="192.2" stroke="#000" stroke-width="1.2" stroke-linecap="butt"/>
<line x1="1111.2" y1="184.38" x2="1111.2" y2="196.99" stroke="#000" stroke-width="1.2" stroke-linecap="butt"/>
<line x1="1108.45" y1="184.38" x2="1113.95" y2="184.38" stroke="#000" stroke-width="1.2" stroke-linecap="butt"/>
<line x1="1108.45" y1="196.99" x2="1113.95" y2="196.99" stroke="#000" stroke-width="1.2" stroke-linecap="butt"/>
<line x1="1120.7" y1="181.1" x2="1120.7" y2="217.42" stroke="#000" stroke-width="1.2" stroke-linecap="butt"/>
<line x1="1117.95" y1="181.1" x2="1123.45" y2="181.1" stroke="#000" stroke-width="1.2" stroke-linecap="butt"/>
<line x1="1117.95" y1="217.42" x2="1123.45" y2="217.42" stroke="#000" stroke-width="1.2" stroke-linecap="butt"/>
<line x1="1130.2" y1="194.97" x2="1130.2" y2="203.55" stroke="#000" stroke-width="1.2" stroke-linecap="butt"/>
<line x1="1127.45" y1="194.97" x2="1132.95" y2="194.97" stroke="#000" stroke-width="1.2" stroke-linecap="butt"/>
<rect x="1153.03" y="190.94" width="2.25" height="125.36" fill="#8c8c8c"/>
<rect x="1162.53" y="201.03" width="2.25" height="115.27" fill="#7c7c7c"/>
<rect x="1172.03" y="211.37" width="2.25" height="104.93" fill="#3c3c3c"/>
<rect x="1145.78" y="185.21" width="7.25" height="130.52" fill="#fff" stroke="#000" stroke-width="1.15"/>
<rect x="1155.28" y="191.51" width="7.25" height="124.21" fill="#e2e2e2" stroke="#000" stroke-width="1.15"/>
<rect x="1155.85" y="192.09" width="6.1" height="12.98" fill="#fff"/>
<rect x="1164.78" y="201.6" width="7.25" height="114.12" fill="#9a9a9a" stroke="#000" stroke-width="1.15"/>
<rect x="1174.28" y="211.94" width="7.25" height="103.78" fill="#000" stroke="#000" stroke-width="1.15"/>
<line x1="1149.4" y1="179.59" x2="1149.4" y2="188.92" stroke="#000" stroke-width="1.2" stroke-linecap="butt"/>
<line x1="1146.65" y1="179.59" x2="1152.15" y2="179.59" stroke="#000" stroke-width="1.2" stroke-linecap="butt"/>
<line x1="1146.65" y1="188.92" x2="1152.15" y2="188.92" stroke="#000" stroke-width="1.2" stroke-linecap="butt"/>
<line x1="1158.9" y1="176.05" x2="1158.9" y2="205.06" stroke="#000" stroke-width="1.2" stroke-linecap="butt"/>
<line x1="1156.15" y1="176.05" x2="1161.65" y2="176.05" stroke="#000" stroke-width="1.2" stroke-linecap="butt"/>
<line x1="1156.15" y1="205.06" x2="1161.65" y2="205.06" stroke="#000" stroke-width="1.2" stroke-linecap="butt"/>
<line x1="1168.4" y1="188.67" x2="1168.4" y2="212.63" stroke="#000" stroke-width="1.2" stroke-linecap="butt"/>
<line x1="1165.65" y1="188.67" x2="1171.15" y2="188.67" stroke="#000" stroke-width="1.2" stroke-linecap="butt"/>
<line x1="1165.65" y1="212.63" x2="1171.15" y2="212.63" stroke="#000" stroke-width="1.2" stroke-linecap="butt"/>
<line x1="1177.9" y1="196.23" x2="1177.9" y2="211.37" stroke="#000" stroke-width="1.2" stroke-linecap="butt"/>
<line x1="1175.15" y1="196.23" x2="1180.65" y2="196.23" stroke="#000" stroke-width="1.2" stroke-linecap="butt"/>
<rect x="1200.73" y="184.63" width="2.25" height="131.67" fill="#8c8c8c"/>
<rect x="1210.23" y="182.11" width="2.25" height="134.19" fill="#7c7c7c"/>
<rect x="1219.73" y="182.11" width="2.25" height="134.19" fill="#3c3c3c"/>
<rect x="1193.48" y="185.21" width="7.25" height="130.52" fill="#fff" stroke="#000" stroke-width="1.15"/>
<rect x="1202.98" y="182.18" width="7.25" height="133.55" fill="#e2e2e2" stroke="#000" stroke-width="1.15"/>
<rect x="1203.55" y="182.75" width="6.1" height="12.47" fill="#fff"/>
<rect x="1212.48" y="182.68" width="7.25" height="133.04" fill="#9a9a9a" stroke="#000" stroke-width="1.15"/>
<rect x="1221.98" y="178.14" width="7.25" height="137.58" fill="#000" stroke="#000" stroke-width="1.15"/>
<line x1="1197.1" y1="160.16" x2="1197.1" y2="208.34" stroke="#000" stroke-width="1.2" stroke-linecap="butt"/>
<line x1="1194.35" y1="160.16" x2="1199.85" y2="160.16" stroke="#000" stroke-width="1.2" stroke-linecap="butt"/>
<line x1="1194.35" y1="208.34" x2="1199.85" y2="208.34" stroke="#000" stroke-width="1.2" stroke-linecap="butt"/>
<line x1="1206.6" y1="167.23" x2="1206.6" y2="195.22" stroke="#000" stroke-width="1.2" stroke-linecap="butt"/>
<line x1="1203.85" y1="167.23" x2="1209.35" y2="167.23" stroke="#000" stroke-width="1.2" stroke-linecap="butt"/>
<line x1="1203.85" y1="195.22" x2="1209.35" y2="195.22" stroke="#000" stroke-width="1.2" stroke-linecap="butt"/>
<line x1="1216.1" y1="173.78" x2="1216.1" y2="189.42" stroke="#000" stroke-width="1.2" stroke-linecap="butt"/>
<line x1="1213.35" y1="173.78" x2="1218.85" y2="173.78" stroke="#000" stroke-width="1.2" stroke-linecap="butt"/>
<line x1="1213.35" y1="189.42" x2="1218.85" y2="189.42" stroke="#000" stroke-width="1.2" stroke-linecap="butt"/>
<line x1="1225.6" y1="168.49" x2="1225.6" y2="177.57" stroke="#000" stroke-width="1.2" stroke-linecap="butt"/>
<line x1="1222.85" y1="168.49" x2="1228.35" y2="168.49" stroke="#000" stroke-width="1.2" stroke-linecap="butt"/>
<rect x="1248.42" y="184.63" width="2.25" height="131.67" fill="#8c8c8c"/>
<rect x="1257.92" y="207.33" width="2.25" height="108.97" fill="#7c7c7c"/>
<rect x="1267.42" y="207.33" width="2.25" height="108.97" fill="#3c3c3c"/>
<rect x="1241.17" y="185.21" width="7.25" height="130.52" fill="#fff" stroke="#000" stroke-width="1.15"/>
<rect x="1250.67" y="178.14" width="7.25" height="137.58" fill="#e2e2e2" stroke="#000" stroke-width="1.15"/>
<rect x="1251.25" y="178.72" width="6.1" height="22.81" fill="#fff"/>
<rect x="1260.17" y="207.91" width="7.25" height="107.82" fill="#9a9a9a" stroke="#000" stroke-width="1.15"/>
<rect x="1269.67" y="202.11" width="7.25" height="113.62" fill="#000" stroke="#000" stroke-width="1.15"/>
<line x1="1244.8" y1="155.37" x2="1244.8" y2="212.88" stroke="#000" stroke-width="1.2" stroke-linecap="butt"/>
<line x1="1242.05" y1="155.37" x2="1247.55" y2="155.37" stroke="#000" stroke-width="1.2" stroke-linecap="butt"/>
<line x1="1242.05" y1="212.88" x2="1247.55" y2="212.88" stroke="#000" stroke-width="1.2" stroke-linecap="butt"/>
<line x1="1254.3" y1="153.35" x2="1254.3" y2="201.53" stroke="#000" stroke-width="1.2" stroke-linecap="butt"/>
<line x1="1251.55" y1="153.35" x2="1257.05" y2="153.35" stroke="#000" stroke-width="1.2" stroke-linecap="butt"/>
<line x1="1251.55" y1="201.53" x2="1257.05" y2="201.53" stroke="#000" stroke-width="1.2" stroke-linecap="butt"/>
<line x1="1263.8" y1="193.46" x2="1263.8" y2="220.45" stroke="#000" stroke-width="1.2" stroke-linecap="butt"/>
<line x1="1261.05" y1="193.46" x2="1266.55" y2="193.46" stroke="#000" stroke-width="1.2" stroke-linecap="butt"/>
<line x1="1261.05" y1="220.45" x2="1266.55" y2="220.45" stroke="#000" stroke-width="1.2" stroke-linecap="butt"/>
<line x1="1273.3" y1="188.41" x2="1273.3" y2="201.53" stroke="#000" stroke-width="1.2" stroke-linecap="butt"/>
<line x1="1270.55" y1="188.41" x2="1276.05" y2="188.41" stroke="#000" stroke-width="1.2" stroke-linecap="butt"/>
<rect x="1296.13" y="187.66" width="2.25" height="128.64" fill="#8c8c8c"/>
<rect x="1305.63" y="187.66" width="2.25" height="128.64" fill="#7c7c7c"/>
<rect x="1315.13" y="180.34" width="2.25" height="135.96" fill="#3c3c3c"/>
<rect x="1288.88" y="185.21" width="7.25" height="130.52" fill="#fff" stroke="#000" stroke-width="1.15"/>
<rect x="1298.38" y="188.23" width="7.25" height="127.49" fill="#e2e2e2" stroke="#000" stroke-width="1.15"/>
<rect x="1298.95" y="188.81" width="6.1" height="16" fill="#fff"/>
<rect x="1307.88" y="180.92" width="7.25" height="134.81" fill="#9a9a9a" stroke="#000" stroke-width="1.15"/>
<rect x="1317.38" y="180.92" width="7.25" height="134.81" fill="#000" stroke="#000" stroke-width="1.15"/>
<line x1="1292.5" y1="166.22" x2="1292.5" y2="202.29" stroke="#000" stroke-width="1.2" stroke-linecap="butt"/>
<line x1="1289.75" y1="166.22" x2="1295.25" y2="166.22" stroke="#000" stroke-width="1.2" stroke-linecap="butt"/>
<line x1="1289.75" y1="202.29" x2="1295.25" y2="202.29" stroke="#000" stroke-width="1.2" stroke-linecap="butt"/>
<line x1="1302" y1="169.75" x2="1302" y2="204.81" stroke="#000" stroke-width="1.2" stroke-linecap="butt"/>
<line x1="1299.25" y1="169.75" x2="1304.75" y2="169.75" stroke="#000" stroke-width="1.2" stroke-linecap="butt"/>
<line x1="1299.25" y1="204.81" x2="1304.75" y2="204.81" stroke="#000" stroke-width="1.2" stroke-linecap="butt"/>
<line x1="1311.5" y1="162.43" x2="1311.5" y2="197.24" stroke="#000" stroke-width="1.2" stroke-linecap="butt"/>
<line x1="1308.75" y1="162.43" x2="1314.25" y2="162.43" stroke="#000" stroke-width="1.2" stroke-linecap="butt"/>
<line x1="1308.75" y1="197.24" x2="1314.25" y2="197.24" stroke="#000" stroke-width="1.2" stroke-linecap="butt"/>
<line x1="1321" y1="166.47" x2="1321" y2="180.34" stroke="#000" stroke-width="1.2" stroke-linecap="butt"/>
<line x1="1318.25" y1="166.47" x2="1323.75" y2="166.47" stroke="#000" stroke-width="1.2" stroke-linecap="butt"/>
<rect x="1343.83" y="185.13" width="2.25" height="131.17" fill="#8c8c8c"/>
<rect x="1353.33" y="185.13" width="2.25" height="131.17" fill="#7c7c7c"/>
<rect x="1362.83" y="186.65" width="2.25" height="129.65" fill="#3c3c3c"/>
<rect x="1336.58" y="185.21" width="7.25" height="130.52" fill="#fff" stroke="#000" stroke-width="1.15"/>
<rect x="1346.08" y="185.71" width="7.25" height="130.02" fill="#e2e2e2" stroke="#000" stroke-width="1.15"/>
<rect x="1346.65" y="186.28" width="6.1" height="4.9" fill="#fff"/>
<rect x="1355.58" y="184.2" width="7.25" height="131.53" fill="#9a9a9a" stroke="#000" stroke-width="1.15"/>
<rect x="1365.08" y="187.22" width="7.25" height="128.5" fill="#000" stroke="#000" stroke-width="1.15"/>
<line x1="1340.2" y1="179.33" x2="1340.2" y2="189.17" stroke="#000" stroke-width="1.2" stroke-linecap="butt"/>
<line x1="1337.45" y1="179.33" x2="1342.95" y2="179.33" stroke="#000" stroke-width="1.2" stroke-linecap="butt"/>
<line x1="1337.45" y1="189.17" x2="1342.95" y2="189.17" stroke="#000" stroke-width="1.2" stroke-linecap="butt"/>
<line x1="1349.7" y1="178.32" x2="1349.7" y2="191.19" stroke="#000" stroke-width="1.2" stroke-linecap="butt"/>
<line x1="1346.95" y1="178.32" x2="1352.45" y2="178.32" stroke="#000" stroke-width="1.2" stroke-linecap="butt"/>
<line x1="1346.95" y1="191.19" x2="1352.45" y2="191.19" stroke="#000" stroke-width="1.2" stroke-linecap="butt"/>
<line x1="1359.2" y1="178.32" x2="1359.2" y2="188.16" stroke="#000" stroke-width="1.2" stroke-linecap="butt"/>
<line x1="1356.45" y1="178.32" x2="1361.95" y2="178.32" stroke="#000" stroke-width="1.2" stroke-linecap="butt"/>
<line x1="1356.45" y1="188.16" x2="1361.95" y2="188.16" stroke="#000" stroke-width="1.2" stroke-linecap="butt"/>
<line x1="1368.7" y1="182.11" x2="1368.7" y2="186.65" stroke="#000" stroke-width="1.2" stroke-linecap="butt"/>
<line x1="1365.95" y1="182.11" x2="1371.45" y2="182.11" stroke="#000" stroke-width="1.2" stroke-linecap="butt"/>
<rect x="1391.53" y="185.39" width="2.25" height="130.91" fill="#8c8c8c"/>
<rect x="1401.03" y="186.65" width="2.25" height="129.65" fill="#7c7c7c"/>
<rect x="1410.53" y="186.65" width="2.25" height="129.65" fill="#3c3c3c"/>
<rect x="1384.28" y="185.21" width="7.25" height="130.52" fill="#fff" stroke="#000" stroke-width="1.15"/>
<rect x="1393.78" y="185.96" width="7.25" height="129.76" fill="#e2e2e2" stroke="#000" stroke-width="1.15"/>
<rect x="1394.35" y="186.54" width="6.1" height="12.47" fill="#fff"/>
<rect x="1403.28" y="187.22" width="7.25" height="128.5" fill="#9a9a9a" stroke="#000" stroke-width="1.15"/>
<rect x="1412.78" y="186.21" width="7.25" height="129.51" fill="#000" stroke="#000" stroke-width="1.15"/>
<line x1="1387.9" y1="171.77" x2="1387.9" y2="196.74" stroke="#000" stroke-width="1.2" stroke-linecap="butt"/>
<line x1="1385.15" y1="171.77" x2="1390.65" y2="171.77" stroke="#000" stroke-width="1.2" stroke-linecap="butt"/>
<line x1="1385.15" y1="196.74" x2="1390.65" y2="196.74" stroke="#000" stroke-width="1.2" stroke-linecap="butt"/>
<line x1="1397.4" y1="171.01" x2="1397.4" y2="199.01" stroke="#000" stroke-width="1.2" stroke-linecap="butt"/>
<line x1="1394.65" y1="171.01" x2="1400.15" y2="171.01" stroke="#000" stroke-width="1.2" stroke-linecap="butt"/>
<line x1="1394.65" y1="199.01" x2="1400.15" y2="199.01" stroke="#000" stroke-width="1.2" stroke-linecap="butt"/>
<line x1="1406.9" y1="157.39" x2="1406.9" y2="214.65" stroke="#000" stroke-width="1.2" stroke-linecap="butt"/>
<line x1="1404.15" y1="157.39" x2="1409.65" y2="157.39" stroke="#000" stroke-width="1.2" stroke-linecap="butt"/>
<line x1="1404.15" y1="214.65" x2="1409.65" y2="214.65" stroke="#000" stroke-width="1.2" stroke-linecap="butt"/>
<line x1="1416.4" y1="159.41" x2="1416.4" y2="185.64" stroke="#000" stroke-width="1.2" stroke-linecap="butt"/>
<line x1="1413.65" y1="159.41" x2="1419.15" y2="159.41" stroke="#000" stroke-width="1.2" stroke-linecap="butt"/>
<rect x="1439.23" y="189.17" width="2.25" height="127.13" fill="#8c8c8c"/>
<rect x="1448.73" y="190.43" width="2.25" height="125.87" fill="#7c7c7c"/>
<rect x="1458.23" y="201.28" width="2.25" height="115.02" fill="#3c3c3c"/>
<rect x="1431.98" y="185.21" width="7.25" height="130.52" fill="#fff" stroke="#000" stroke-width="1.15"/>
<rect x="1441.48" y="189.75" width="7.25" height="125.98" fill="#e2e2e2" stroke="#000" stroke-width="1.15"/>
<rect x="1442.05" y="190.32" width="6.1" height="16.76" fill="#fff"/>
<rect x="1450.98" y="191.01" width="7.25" height="124.72" fill="#9a9a9a" stroke="#000" stroke-width="1.15"/>
<rect x="1460.48" y="201.85" width="7.25" height="113.87" fill="#000" stroke="#000" stroke-width="1.15"/>
<line x1="1435.6" y1="162.69" x2="1435.6" y2="205.57" stroke="#000" stroke-width="1.2" stroke-linecap="butt"/>
<line x1="1432.85" y1="162.69" x2="1438.35" y2="162.69" stroke="#000" stroke-width="1.2" stroke-linecap="butt"/>
<line x1="1432.85" y1="205.57" x2="1438.35" y2="205.57" stroke="#000" stroke-width="1.2" stroke-linecap="butt"/>
<line x1="1445.1" y1="170" x2="1445.1" y2="207.08" stroke="#000" stroke-width="1.2" stroke-linecap="butt"/>
<line x1="1442.35" y1="170" x2="1447.85" y2="170" stroke="#000" stroke-width="1.2" stroke-linecap="butt"/>
<line x1="1442.35" y1="207.08" x2="1447.85" y2="207.08" stroke="#000" stroke-width="1.2" stroke-linecap="butt"/>
<line x1="1454.6" y1="178.32" x2="1454.6" y2="201.28" stroke="#000" stroke-width="1.2" stroke-linecap="butt"/>
<line x1="1451.85" y1="178.32" x2="1457.35" y2="178.32" stroke="#000" stroke-width="1.2" stroke-linecap="butt"/>
<line x1="1451.85" y1="201.28" x2="1457.35" y2="201.28" stroke="#000" stroke-width="1.2" stroke-linecap="butt"/>
<line x1="1464.1" y1="189.42" x2="1464.1" y2="201.28" stroke="#000" stroke-width="1.2" stroke-linecap="butt"/>
<line x1="1461.35" y1="189.42" x2="1466.85" y2="189.42" stroke="#000" stroke-width="1.2" stroke-linecap="butt"/>
<line x1="758.8" y1="117.8" x2="758.8" y2="317.3" stroke="#000" stroke-width="2" stroke-linecap="butt"/>
<line x1="752" y1="316.3" x2="1472" y2="316.3" stroke="#000" stroke-width="2" stroke-linecap="butt"/>
<line x1="752" y1="316.3" x2="758.8" y2="316.3" stroke="#000" stroke-width="2" stroke-linecap="butt"/>
<text x="751.4" y="323.5" font-size="19.34" text-anchor="end" textLength="10.34" lengthAdjust="spacingAndGlyphs">0</text>
<line x1="752" y1="283.38" x2="758.8" y2="283.38" stroke="#000" stroke-width="2" stroke-linecap="butt"/>
<text x="751.4" y="290.58" font-size="19.34" text-anchor="end" textLength="20.69" lengthAdjust="spacingAndGlyphs">25</text>
<line x1="752" y1="250.47" x2="758.8" y2="250.47" stroke="#000" stroke-width="2" stroke-linecap="butt"/>
<text x="751.4" y="257.67" font-size="19.34" text-anchor="end" textLength="20.69" lengthAdjust="spacingAndGlyphs">50</text>
<line x1="752" y1="217.55" x2="758.8" y2="217.55" stroke="#000" stroke-width="2" stroke-linecap="butt"/>
<text x="751.4" y="224.75" font-size="19.34" text-anchor="end" textLength="20.69" lengthAdjust="spacingAndGlyphs">75</text>
<line x1="752" y1="184.63" x2="758.8" y2="184.63" stroke="#000" stroke-width="2" stroke-linecap="butt"/>
<text x="751.4" y="191.83" font-size="19.34" text-anchor="end" textLength="31.03" lengthAdjust="spacingAndGlyphs">100</text>
<line x1="752" y1="151.71" x2="758.8" y2="151.71" stroke="#000" stroke-width="2" stroke-linecap="butt"/>
<text x="751.4" y="158.91" font-size="19.34" text-anchor="end" textLength="31.03" lengthAdjust="spacingAndGlyphs">125</text>
<line x1="752" y1="118.8" x2="758.8" y2="118.8" stroke="#000" stroke-width="2" stroke-linecap="butt"/>
<text x="751.4" y="126" font-size="19.34" text-anchor="end" textLength="31.03" lengthAdjust="spacingAndGlyphs">150</text>
<line x1="781.6" y1="316.3" x2="781.6" y2="322.3" stroke="#000" stroke-width="2" stroke-linecap="butt"/>
<line x1="829.31" y1="316.3" x2="829.31" y2="322.3" stroke="#000" stroke-width="2" stroke-linecap="butt"/>
<line x1="877.02" y1="316.3" x2="877.02" y2="322.3" stroke="#000" stroke-width="2" stroke-linecap="butt"/>
<line x1="924.73" y1="316.3" x2="924.73" y2="322.3" stroke="#000" stroke-width="2" stroke-linecap="butt"/>
<line x1="972.44" y1="316.3" x2="972.44" y2="322.3" stroke="#000" stroke-width="2" stroke-linecap="butt"/>
<line x1="1020.15" y1="316.3" x2="1020.15" y2="322.3" stroke="#000" stroke-width="2" stroke-linecap="butt"/>
<line x1="1067.86" y1="316.3" x2="1067.86" y2="322.3" stroke="#000" stroke-width="2" stroke-linecap="butt"/>
<line x1="1115.57" y1="316.3" x2="1115.57" y2="322.3" stroke="#000" stroke-width="2" stroke-linecap="butt"/>
<line x1="1163.28" y1="316.3" x2="1163.28" y2="322.3" stroke="#000" stroke-width="2" stroke-linecap="butt"/>
<line x1="1210.99" y1="316.3" x2="1210.99" y2="322.3" stroke="#000" stroke-width="2" stroke-linecap="butt"/>
<line x1="1258.7" y1="316.3" x2="1258.7" y2="322.3" stroke="#000" stroke-width="2" stroke-linecap="butt"/>
<line x1="1306.41" y1="316.3" x2="1306.41" y2="322.3" stroke="#000" stroke-width="2" stroke-linecap="butt"/>
<line x1="1354.12" y1="316.3" x2="1354.12" y2="322.3" stroke="#000" stroke-width="2" stroke-linecap="butt"/>
<line x1="1401.83" y1="316.3" x2="1401.83" y2="322.3" stroke="#000" stroke-width="2" stroke-linecap="butt"/>
<line x1="1449.54" y1="316.3" x2="1449.54" y2="322.3" stroke="#000" stroke-width="2" stroke-linecap="butt"/>
<text x="765.7" y="128" font-size="16.22" text-anchor="start" textLength="57.3" lengthAdjust="spacingAndGlyphs">p &lt; 0.01</text>
<line x1="761.5" y1="136.3" x2="802.8" y2="136.3" stroke="#000" stroke-width="2" stroke-linecap="butt"/>
<text x="786.15" y="335.65" font-size="19.76" text-anchor="end" transform="rotate(-45 786.15 335.65)" textLength="29.54" lengthAdjust="spacingAndGlyphs">WT</text>
<text x="833.86" y="335.65" font-size="19.76" text-anchor="end" transform="rotate(-45 833.86 335.65)" textLength="34.85" lengthAdjust="spacingAndGlyphs">L7V</text>
<text x="881.57" y="335.65" font-size="19.76" text-anchor="end" transform="rotate(-45 881.57 335.65)" textLength="48.59" lengthAdjust="spacingAndGlyphs">G11E</text>
<text x="929.28" y="335.65" font-size="19.76" text-anchor="end" transform="rotate(-45 929.28 335.65)" textLength="49.63" lengthAdjust="spacingAndGlyphs">G11R</text>
<text x="976.99" y="335.65" font-size="19.76" text-anchor="end" transform="rotate(-45 976.99 335.65)" textLength="45.41" lengthAdjust="spacingAndGlyphs">L62P</text>
<text x="1024.7" y="335.65" font-size="19.76" text-anchor="end" transform="rotate(-45 1024.7 335.65)" textLength="46.46" lengthAdjust="spacingAndGlyphs">R71T</text>
<text x="1072.41" y="335.65" font-size="19.76" text-anchor="end" transform="rotate(-45 1072.41 335.65)" textLength="45.41" lengthAdjust="spacingAndGlyphs">S99F</text>
<text x="1120.12" y="335.65" font-size="19.76" text-anchor="end" transform="rotate(-45 1120.12 335.65)" textLength="71.83" lengthAdjust="spacingAndGlyphs">Y178del</text>
<text x="1167.83" y="335.65" font-size="19.76" text-anchor="end" transform="rotate(-45 1167.83 335.65)" textLength="63.36" lengthAdjust="spacingAndGlyphs">R248W</text>
<text x="1215.54" y="335.65" font-size="19.76" text-anchor="end" transform="rotate(-45 1215.54 335.65)" textLength="70.76" lengthAdjust="spacingAndGlyphs">T272del</text>
<text x="1263.25" y="335.65" font-size="19.76" text-anchor="end" transform="rotate(-45 1263.25 335.65)" textLength="58.1" lengthAdjust="spacingAndGlyphs">D303V</text>
<text x="1310.96" y="335.65" font-size="19.76" text-anchor="end" transform="rotate(-45 1310.96 335.65)" textLength="60.2" lengthAdjust="spacingAndGlyphs">D308G</text>
<text x="1358.67" y="335.65" font-size="19.76" text-anchor="end" transform="rotate(-45 1358.67 335.65)" textLength="51.77" lengthAdjust="spacingAndGlyphs">S375*</text>
<text x="1406.38" y="335.65" font-size="19.76" text-anchor="end" transform="rotate(-45 1406.38 335.65)" textLength="52.82" lengthAdjust="spacingAndGlyphs">R435*</text>
<text x="1454.09" y="335.65" font-size="19.76" text-anchor="end" transform="rotate(-45 1454.09 335.65)" textLength="54.91" lengthAdjust="spacingAndGlyphs">T441T</text>
<path d="M759.2 395.2 V400.8 H1467.8 V395.2 M1104.4 400.8 V407.9" fill="none" stroke="#000" stroke-width="2"/>
<text x="1033" y="429.2" font-size="19.34" text-anchor="start" textLength="147.3" lengthAdjust="spacingAndGlyphs">HeLa-CASP8 KO</text>
<text x="683.6" y="214" font-size="19.34" text-anchor="middle" transform="rotate(-90 683.6 214)" textLength="121.5" lengthAdjust="spacingAndGlyphs">% Cell growth</text>
<text x="706.6" y="214" font-size="19.34" text-anchor="middle" transform="rotate(-90 706.6 214)" textLength="154.7" lengthAdjust="spacingAndGlyphs">( rel. to no TRAIL)</text>
<text x="-2.3" y="517.7" font-size="44.9" text-anchor="start" class="big" textLength="30.96" lengthAdjust="spacingAndGlyphs">B</text>
<rect x="87" y="745.44" width="15.8" height="13.66" fill="#fff" stroke="#000" stroke-width="1.2"/>
<rect x="106.2" y="749.69" width="15.8" height="9.42" fill="#b4b4b4" stroke="#000" stroke-width="1.2"/>
<rect x="125.4" y="749.3" width="15.8" height="9.8" fill="#000" stroke="#000" stroke-width="1.2"/>
<line x1="94.9" y1="743.68" x2="94.9" y2="745.8" stroke="#000" stroke-width="1.4" stroke-linecap="butt"/>
<line x1="90.4" y1="743.68" x2="99.4" y2="743.68" stroke="#000" stroke-width="1.4" stroke-linecap="butt"/>
<line x1="90.4" y1="745.8" x2="99.4" y2="745.8" stroke="#000" stroke-width="1.4" stroke-linecap="butt"/>
<line x1="114.1" y1="748.12" x2="114.1" y2="749.66" stroke="#000" stroke-width="1.4" stroke-linecap="butt"/>
<line x1="109.6" y1="748.12" x2="118.6" y2="748.12" stroke="#000" stroke-width="1.4" stroke-linecap="butt"/>
<line x1="109.6" y1="749.66" x2="118.6" y2="749.66" stroke="#000" stroke-width="1.4" stroke-linecap="butt"/>
<line x1="133.3" y1="747.73" x2="133.3" y2="748.7" stroke="#000" stroke-width="1.4" stroke-linecap="butt"/>
<line x1="128.8" y1="747.73" x2="137.8" y2="747.73" stroke="#000" stroke-width="1.4" stroke-linecap="butt"/>
<rect x="162.25" y="745.05" width="15.8" height="14.05" fill="#fff" stroke="#000" stroke-width="1.2"/>
<rect x="181.45" y="675.96" width="15.8" height="83.14" fill="#b4b4b4" stroke="#000" stroke-width="1.2"/>
<rect x="200.65" y="597.41" width="15.8" height="161.69" fill="#000" stroke="#000" stroke-width="1.2"/>
<line x1="170.15" y1="740.59" x2="170.15" y2="747.35" stroke="#000" stroke-width="1.4" stroke-linecap="butt"/>
<line x1="165.65" y1="740.59" x2="174.65" y2="740.59" stroke="#000" stroke-width="1.4" stroke-linecap="butt"/>
<line x1="165.65" y1="747.35" x2="174.65" y2="747.35" stroke="#000" stroke-width="1.4" stroke-linecap="butt"/>
<line x1="189.35" y1="666.48" x2="189.35" y2="684.04" stroke="#000" stroke-width="1.4" stroke-linecap="butt"/>
<line x1="184.85" y1="666.48" x2="193.85" y2="666.48" stroke="#000" stroke-width="1.4" stroke-linecap="butt"/>
<line x1="184.85" y1="684.04" x2="193.85" y2="684.04" stroke="#000" stroke-width="1.4" stroke-linecap="butt"/>
<line x1="208.55" y1="583.3" x2="208.55" y2="596.81" stroke="#000" stroke-width="1.4" stroke-linecap="butt"/>
<line x1="204.05" y1="583.3" x2="213.05" y2="583.3" stroke="#000" stroke-width="1.4" stroke-linecap="butt"/>
<rect x="237.5" y="743.32" width="15.8" height="15.78" fill="#fff" stroke="#000" stroke-width="1.2"/>
<rect x="256.7" y="744.47" width="15.8" height="14.63" fill="#b4b4b4" stroke="#000" stroke-width="1.2"/>
<rect x="275.9" y="743.7" width="15.8" height="15.4" fill="#000" stroke="#000" stroke-width="1.2"/>
<line x1="245.4" y1="740.79" x2="245.4" y2="744.26" stroke="#000" stroke-width="1.4" stroke-linecap="butt"/>
<line x1="240.9" y1="740.79" x2="249.9" y2="740.79" stroke="#000" stroke-width="1.4" stroke-linecap="butt"/>
<line x1="240.9" y1="744.26" x2="249.9" y2="744.26" stroke="#000" stroke-width="1.4" stroke-linecap="butt"/>
<line x1="264.6" y1="743.1" x2="264.6" y2="744.45" stroke="#000" stroke-width="1.4" stroke-linecap="butt"/>
<line x1="260.1" y1="743.1" x2="269.1" y2="743.1" stroke="#000" stroke-width="1.4" stroke-linecap="butt"/>
<line x1="260.1" y1="744.45" x2="269.1" y2="744.45" stroke="#000" stroke-width="1.4" stroke-linecap="butt"/>
<line x1="283.8" y1="741.75" x2="283.8" y2="743.1" stroke="#000" stroke-width="1.4" stroke-linecap="butt"/>
<line x1="279.3" y1="741.75" x2="288.3" y2="741.75" stroke="#000" stroke-width="1.4" stroke-linecap="butt"/>
<rect x="312.75" y="750.07" width="15.8" height="9.03" fill="#fff" stroke="#000" stroke-width="1.2"/>
<rect x="331.95" y="747.56" width="15.8" height="11.54" fill="#b4b4b4" stroke="#000" stroke-width="1.2"/>
<rect x="351.15" y="745.44" width="15.8" height="13.66" fill="#000" stroke="#000" stroke-width="1.2"/>
<line x1="320.65" y1="746.96" x2="320.65" y2="751.21" stroke="#000" stroke-width="1.4" stroke-linecap="butt"/>
<line x1="316.15" y1="746.96" x2="325.15" y2="746.96" stroke="#000" stroke-width="1.4" stroke-linecap="butt"/>
<line x1="316.15" y1="751.21" x2="325.15" y2="751.21" stroke="#000" stroke-width="1.4" stroke-linecap="butt"/>
<line x1="339.85" y1="742.72" x2="339.85" y2="750.82" stroke="#000" stroke-width="1.4" stroke-linecap="butt"/>
<line x1="335.35" y1="742.72" x2="344.35" y2="742.72" stroke="#000" stroke-width="1.4" stroke-linecap="butt"/>
<line x1="335.35" y1="750.82" x2="344.35" y2="750.82" stroke="#000" stroke-width="1.4" stroke-linecap="butt"/>
<line x1="359.05" y1="743.68" x2="359.05" y2="744.84" stroke="#000" stroke-width="1.4" stroke-linecap="butt"/>
<line x1="354.55" y1="743.68" x2="363.55" y2="743.68" stroke="#000" stroke-width="1.4" stroke-linecap="butt"/>
<rect x="388" y="746.79" width="15.8" height="12.31" fill="#fff" stroke="#000" stroke-width="1.2"/>
<rect x="407.2" y="743.7" width="15.8" height="15.4" fill="#b4b4b4" stroke="#000" stroke-width="1.2"/>
<rect x="426.4" y="745.05" width="15.8" height="14.05" fill="#000" stroke="#000" stroke-width="1.2"/>
<line x1="395.9" y1="745.42" x2="395.9" y2="746.77" stroke="#000" stroke-width="1.4" stroke-linecap="butt"/>
<line x1="391.4" y1="745.42" x2="400.4" y2="745.42" stroke="#000" stroke-width="1.4" stroke-linecap="butt"/>
<line x1="391.4" y1="746.77" x2="400.4" y2="746.77" stroke="#000" stroke-width="1.4" stroke-linecap="butt"/>
<line x1="415.1" y1="740.59" x2="415.1" y2="745.23" stroke="#000" stroke-width="1.4" stroke-linecap="butt"/>
<line x1="410.6" y1="740.59" x2="419.6" y2="740.59" stroke="#000" stroke-width="1.4" stroke-linecap="butt"/>
<line x1="410.6" y1="745.23" x2="419.6" y2="745.23" stroke="#000" stroke-width="1.4" stroke-linecap="butt"/>
<line x1="434.3" y1="742.72" x2="434.3" y2="744.45" stroke="#000" stroke-width="1.4" stroke-linecap="butt"/>
<line x1="429.8" y1="742.72" x2="438.8" y2="742.72" stroke="#000" stroke-width="1.4" stroke-linecap="butt"/>
<rect x="463.25" y="746.79" width="15.8" height="12.31" fill="#fff" stroke="#000" stroke-width="1.2"/>
<rect x="482.45" y="745.44" width="15.8" height="13.66" fill="#b4b4b4" stroke="#000" stroke-width="1.2"/>
<rect x="501.65" y="747.56" width="15.8" height="11.54" fill="#000" stroke="#000" stroke-width="1.2"/>
<line x1="471.15" y1="744.45" x2="471.15" y2="747.35" stroke="#000" stroke-width="1.4" stroke-linecap="butt"/>
<line x1="466.65" y1="744.45" x2="475.65" y2="744.45" stroke="#000" stroke-width="1.4" stroke-linecap="butt"/>
<line x1="466.65" y1="747.35" x2="475.65" y2="747.35" stroke="#000" stroke-width="1.4" stroke-linecap="butt"/>
<line x1="490.35" y1="743.1" x2="490.35" y2="746.38" stroke="#000" stroke-width="1.4" stroke-linecap="butt"/>
<line x1="485.85" y1="743.1" x2="494.85" y2="743.1" stroke="#000" stroke-width="1.4" stroke-linecap="butt"/>
<line x1="485.85" y1="746.38" x2="494.85" y2="746.38" stroke="#000" stroke-width="1.4" stroke-linecap="butt"/>
<line x1="509.55" y1="745.42" x2="509.55" y2="746.96" stroke="#000" stroke-width="1.4" stroke-linecap="butt"/>
<line x1="505.05" y1="745.42" x2="514.05" y2="745.42" stroke="#000" stroke-width="1.4" stroke-linecap="butt"/>
<line x1="77.7" y1="565.7" x2="77.7" y2="760.7" stroke="#000" stroke-width="2" stroke-linecap="butt"/>
<line x1="72" y1="759.7" x2="527.3" y2="759.7" stroke="#000" stroke-width="2" stroke-linecap="butt"/>
<line x1="72" y1="759.7" x2="77.7" y2="759.7" stroke="#000" stroke-width="2" stroke-linecap="butt"/>
<text x="69.9" y="767.05" font-size="21.63" text-anchor="end" class="h" textLength="11.57" lengthAdjust="spacingAndGlyphs">0</text>
<line x1="72" y1="721.1" x2="77.7" y2="721.1" stroke="#000" stroke-width="2" stroke-linecap="butt"/>
<text x="69.9" y="728.45" font-size="21.63" text-anchor="end" class="h" textLength="23.14" lengthAdjust="spacingAndGlyphs">20</text>
<line x1="72" y1="682.5" x2="77.7" y2="682.5" stroke="#000" stroke-width="2" stroke-linecap="butt"/>
<text x="69.9" y="689.85" font-size="21.63" text-anchor="end" class="h" textLength="23.14" lengthAdjust="spacingAndGlyphs">40</text>
<line x1="72" y1="643.9" x2="77.7" y2="643.9" stroke="#000" stroke-width="2" stroke-linecap="butt"/>
<text x="69.9" y="651.25" font-size="21.63" text-anchor="end" class="h" textLength="23.14" lengthAdjust="spacingAndGlyphs">60</text>
<line x1="72" y1="605.3" x2="77.7" y2="605.3" stroke="#000" stroke-width="2" stroke-linecap="butt"/>
<text x="69.9" y="612.65" font-size="21.63" text-anchor="end" class="h" textLength="23.14" lengthAdjust="spacingAndGlyphs">80</text>
<line x1="72" y1="566.7" x2="77.7" y2="566.7" stroke="#000" stroke-width="2" stroke-linecap="butt"/>
<text x="69.9" y="574.05" font-size="21.63" text-anchor="end" class="h" textLength="34.71" lengthAdjust="spacingAndGlyphs">100</text>
<line x1="114.2" y1="759.7" x2="114.2" y2="765.2" stroke="#000" stroke-width="2" stroke-linecap="butt"/>
<line x1="189.45" y1="759.7" x2="189.45" y2="765.2" stroke="#000" stroke-width="2" stroke-linecap="butt"/>
<line x1="264.7" y1="759.7" x2="264.7" y2="765.2" stroke="#000" stroke-width="2" stroke-linecap="butt"/>
<line x1="339.95" y1="759.7" x2="339.95" y2="765.2" stroke="#000" stroke-width="2" stroke-linecap="butt"/>
<line x1="415.2" y1="759.7" x2="415.2" y2="765.2" stroke="#000" stroke-width="2" stroke-linecap="butt"/>
<line x1="490.45" y1="759.7" x2="490.45" y2="765.2" stroke="#000" stroke-width="2" stroke-linecap="butt"/>
<text x="163.6" y="545.1" font-size="21.63" text-anchor="start" class="h" textLength="76" lengthAdjust="spacingAndGlyphs">p &lt; 0.01</text>
<path d="M188.7 571.5 V565.4 H209.2 V571.5" fill="none" stroke="#000" stroke-width="2"/>
<text x="114.2" y="785.8" font-size="22.15" text-anchor="middle" class="h" textLength="49.72" lengthAdjust="spacingAndGlyphs">LacZ</text>
<text x="189.45" y="785.8" font-size="22.15" text-anchor="middle" class="h" textLength="33.11" lengthAdjust="spacingAndGlyphs">WT</text>
<text x="264.7" y="785.8" font-size="22.15" text-anchor="middle" class="h" textLength="63.93" lengthAdjust="spacingAndGlyphs">L105H</text>
<text x="339.95" y="785.8" font-size="22.15" text-anchor="middle" class="h" textLength="67.49" lengthAdjust="spacingAndGlyphs">D303G</text>
<text x="415.2" y="785.8" font-size="22.15" text-anchor="middle" class="h" textLength="58.04" lengthAdjust="spacingAndGlyphs">S386*</text>
<text x="490.45" y="785.8" font-size="22.15" text-anchor="middle" class="h" textLength="60.4" lengthAdjust="spacingAndGlyphs">Q465*</text>
<path d="M94.8 799.5 V805.8 H510.2 V799.5 M303.4 805.8 V812.2" fill="none" stroke="#000" stroke-width="2"/>
<text x="220.8" y="834.6" font-size="21.63" text-anchor="start" class="h" textLength="165.2" lengthAdjust="spacingAndGlyphs">HeLa-CASP8 KO</text>
<text x="23.1" y="752.5" font-size="21.63" transform="rotate(-90 23.1 752.5)" class="h" textLength="185" lengthAdjust="spacingAndGlyphs">% annexin V<tspan dy="-9">+</tspan><tspan dy="9"> cells</tspan></text>
<rect x="517.65" y="559.05" width="20.3" height="15.5" fill="#fff" stroke="#000" stroke-width="1.3"/>
<rect x="517.85" y="603.15" width="20.3" height="16.1" fill="#b4b4b4" stroke="#000" stroke-width="1.3"/>
<rect x="518.2" y="663.4" width="21.6" height="11.6" fill="#000"/>
<text x="555.4" y="574" font-size="21.63" text-anchor="start" class="h" textLength="129.6" lengthAdjust="spacingAndGlyphs">No treatment</text>
<text x="555.4" y="617.8" font-size="21.63" text-anchor="start" class="h" textLength="115.2" lengthAdjust="spacingAndGlyphs">DOX (16 hr)</text>
<text x="555.4" y="664.9" font-size="21.63" text-anchor="start" class="h" textLength="104" lengthAdjust="spacingAndGlyphs">DOX (4 hr)</text>
<line x1="607.4" y1="672.8" x2="607.4" y2="694" stroke="#000" stroke-width="2.8" stroke-linecap="butt"/>
<polygon points="601.5,691.4 613.5,691.4 607.5,704.8" fill="#000"/>
<text x="556.6" y="724.5" font-size="21.63" text-anchor="start" class="h" textLength="200.6" lengthAdjust="spacingAndGlyphs">DOX + TRAIL (12 hr)</text>
<text x="820.8" y="518.3" font-size="46.7" text-anchor="start" class="big" textLength="30.5" lengthAdjust="spacingAndGlyphs">C</text>
<text x="1065.2" y="525.6" font-size="21.63" text-anchor="start" class="h" textLength="61.8" lengthAdjust="spacingAndGlyphs">24 hrs</text>
<text x="1237.2" y="558.9" font-size="21.63" text-anchor="start" class="h" textLength="143.4" lengthAdjust="spacingAndGlyphs">TRAIL (ng/mL)</text>
<rect x="1308.85" y="580.15" width="23.3" height="15" fill="#fff" stroke="#000" stroke-width="1.3"/>
<text x="1345.6" y="594.7" font-size="22.05" text-anchor="start" class="h" textLength="11.79" lengthAdjust="spacingAndGlyphs">0</text>
<rect x="1308.85" y="605.15" width="23.3" height="15" fill="#e0e0e0" stroke="#000" stroke-width="1.3"/>
<text x="1345.6" y="619.8" font-size="22.05" text-anchor="start" class="h" textLength="41.26" lengthAdjust="spacingAndGlyphs">12.5</text>
<rect x="1308.85" y="632.95" width="23.3" height="15" fill="#b6b6b6" stroke="#000" stroke-width="1.3"/>
<text x="1345.6" y="647.3" font-size="22.05" text-anchor="start" class="h" textLength="23.58" lengthAdjust="spacingAndGlyphs">25</text>
<rect x="1308.85" y="661.65" width="23.3" height="15" fill="#969696" stroke="#000" stroke-width="1.3"/>
<text x="1345.6" y="676.2" font-size="22.05" text-anchor="start" class="h" textLength="23.58" lengthAdjust="spacingAndGlyphs">50</text>
<rect x="1308.85" y="688.75" width="23.3" height="15" fill="#787878" stroke="#000" stroke-width="1.3"/>
<text x="1345.6" y="703.6" font-size="22.05" text-anchor="start" class="h" textLength="35.37" lengthAdjust="spacingAndGlyphs">100</text>
<rect x="1308.85" y="716.75" width="23.3" height="15" fill="#404040" stroke="#000" stroke-width="1.3"/>
<text x="1345.6" y="731.1" font-size="22.05" text-anchor="start" class="h" textLength="35.37" lengthAdjust="spacingAndGlyphs">200</text>
<rect x="939.12" y="654.92" width="20.15" height="145.95" fill="#fff" stroke="#000" stroke-width="1.25"/>
<rect x="963.33" y="651.39" width="20.15" height="149.48" fill="#e0e0e0" stroke="#000" stroke-width="1.25"/>
<rect x="987.52" y="711.3" width="20.15" height="89.57" fill="#b6b6b6" stroke="#000" stroke-width="1.25"/>
<rect x="1011.73" y="745.01" width="20.15" height="55.86" fill="#969696" stroke="#000" stroke-width="1.25"/>
<rect x="1035.92" y="769.74" width="20.15" height="31.13" fill="#787878" stroke="#000" stroke-width="1.25"/>
<rect x="1060.12" y="781.37" width="20.15" height="19.51" fill="#404040" stroke="#000" stroke-width="1.25"/>
<line x1="949.2" y1="643.11" x2="949.2" y2="665.49" stroke="#000" stroke-width="1.4" stroke-linecap="butt"/>
<line x1="943.45" y1="643.11" x2="954.95" y2="643.11" stroke="#000" stroke-width="1.4" stroke-linecap="butt"/>
<line x1="943.45" y1="665.49" x2="954.95" y2="665.49" stroke="#000" stroke-width="1.4" stroke-linecap="butt"/>
<line x1="973.4" y1="640.61" x2="973.4" y2="659.6" stroke="#000" stroke-width="1.4" stroke-linecap="butt"/>
<line x1="967.65" y1="640.61" x2="979.15" y2="640.61" stroke="#000" stroke-width="1.4" stroke-linecap="butt"/>
<line x1="967.65" y1="659.6" x2="979.15" y2="659.6" stroke="#000" stroke-width="1.4" stroke-linecap="butt"/>
<line x1="997.6" y1="701.26" x2="997.6" y2="719.51" stroke="#000" stroke-width="1.4" stroke-linecap="butt"/>
<line x1="991.85" y1="701.26" x2="1003.35" y2="701.26" stroke="#000" stroke-width="1.4" stroke-linecap="butt"/>
<line x1="991.85" y1="719.51" x2="1003.35" y2="719.51" stroke="#000" stroke-width="1.4" stroke-linecap="butt"/>
<line x1="1021.8" y1="737.03" x2="1021.8" y2="750.13" stroke="#000" stroke-width="1.4" stroke-linecap="butt"/>
<line x1="1016.05" y1="737.03" x2="1027.55" y2="737.03" stroke="#000" stroke-width="1.4" stroke-linecap="butt"/>
<line x1="1016.05" y1="750.13" x2="1027.55" y2="750.13" stroke="#000" stroke-width="1.4" stroke-linecap="butt"/>
<line x1="1046" y1="765.58" x2="1046" y2="771.18" stroke="#000" stroke-width="1.4" stroke-linecap="butt"/>
<line x1="1040.25" y1="765.58" x2="1051.75" y2="765.58" stroke="#000" stroke-width="1.4" stroke-linecap="butt"/>
<line x1="1040.25" y1="771.18" x2="1051.75" y2="771.18" stroke="#000" stroke-width="1.4" stroke-linecap="butt"/>
<line x1="1070.2" y1="778.39" x2="1070.2" y2="781.48" stroke="#000" stroke-width="1.4" stroke-linecap="butt"/>
<line x1="1064.45" y1="778.39" x2="1075.95" y2="778.39" stroke="#000" stroke-width="1.4" stroke-linecap="butt"/>
<line x1="1064.45" y1="781.48" x2="1075.95" y2="781.48" stroke="#000" stroke-width="1.4" stroke-linecap="butt"/>
<rect x="1105.72" y="654.92" width="20.15" height="145.95" fill="#fff" stroke="#000" stroke-width="1.25"/>
<rect x="1129.92" y="668.69" width="20.15" height="132.18" fill="#e0e0e0" stroke="#000" stroke-width="1.25"/>
<rect x="1154.12" y="648.92" width="20.15" height="151.96" fill="#b6b6b6" stroke="#000" stroke-width="1.25"/>
<rect x="1178.32" y="681.46" width="20.15" height="119.41" fill="#969696" stroke="#000" stroke-width="1.25"/>
<rect x="1202.52" y="656.43" width="20.15" height="144.45" fill="#787878" stroke="#000" stroke-width="1.25"/>
<rect x="1226.72" y="674.45" width="20.15" height="126.42" fill="#404040" stroke="#000" stroke-width="1.25"/>
<line x1="1115.8" y1="644.04" x2="1115.8" y2="664.31" stroke="#000" stroke-width="1.4" stroke-linecap="butt"/>
<line x1="1110.05" y1="644.04" x2="1121.55" y2="644.04" stroke="#000" stroke-width="1.4" stroke-linecap="butt"/>
<line x1="1110.05" y1="664.31" x2="1121.55" y2="664.31" stroke="#000" stroke-width="1.4" stroke-linecap="butt"/>
<line x1="1140" y1="655.05" x2="1140" y2="680.59" stroke="#000" stroke-width="1.4" stroke-linecap="butt"/>
<line x1="1134.25" y1="655.05" x2="1145.75" y2="655.05" stroke="#000" stroke-width="1.4" stroke-linecap="butt"/>
<line x1="1134.25" y1="680.59" x2="1145.75" y2="680.59" stroke="#000" stroke-width="1.4" stroke-linecap="butt"/>
<line x1="1164.2" y1="634.27" x2="1164.2" y2="661.81" stroke="#000" stroke-width="1.4" stroke-linecap="butt"/>
<line x1="1158.45" y1="634.27" x2="1169.95" y2="634.27" stroke="#000" stroke-width="1.4" stroke-linecap="butt"/>
<line x1="1158.45" y1="661.81" x2="1169.95" y2="661.81" stroke="#000" stroke-width="1.4" stroke-linecap="butt"/>
<line x1="1188.4" y1="667.82" x2="1188.4" y2="693.35" stroke="#000" stroke-width="1.4" stroke-linecap="butt"/>
<line x1="1182.65" y1="667.82" x2="1194.15" y2="667.82" stroke="#000" stroke-width="1.4" stroke-linecap="butt"/>
<line x1="1182.65" y1="693.35" x2="1194.15" y2="693.35" stroke="#000" stroke-width="1.4" stroke-linecap="butt"/>
<line x1="1212.6" y1="643.03" x2="1212.6" y2="668.07" stroke="#000" stroke-width="1.4" stroke-linecap="butt"/>
<line x1="1206.85" y1="643.03" x2="1218.35" y2="643.03" stroke="#000" stroke-width="1.4" stroke-linecap="butt"/>
<line x1="1206.85" y1="668.07" x2="1218.35" y2="668.07" stroke="#000" stroke-width="1.4" stroke-linecap="butt"/>
<line x1="1236.8" y1="660.31" x2="1236.8" y2="686.34" stroke="#000" stroke-width="1.4" stroke-linecap="butt"/>
<line x1="1231.05" y1="660.31" x2="1242.55" y2="660.31" stroke="#000" stroke-width="1.4" stroke-linecap="butt"/>
<line x1="1231.05" y1="686.34" x2="1242.55" y2="686.34" stroke="#000" stroke-width="1.4" stroke-linecap="butt"/>
<line x1="927.4" y1="579.7" x2="927.4" y2="802.5" stroke="#000" stroke-width="2" stroke-linecap="butt"/>
<line x1="920.8" y1="801.5" x2="1258.4" y2="801.5" stroke="#000" stroke-width="2" stroke-linecap="butt"/>
<line x1="920.8" y1="801.5" x2="927.4" y2="801.5" stroke="#000" stroke-width="2" stroke-linecap="butt"/>
<text x="918.8" y="809.35" font-size="21.63" text-anchor="end" class="h" textLength="11.57" lengthAdjust="spacingAndGlyphs">0</text>
<line x1="920.8" y1="727.9" x2="927.4" y2="727.9" stroke="#000" stroke-width="2" stroke-linecap="butt"/>
<text x="918.8" y="735.75" font-size="21.63" text-anchor="end" class="h" textLength="23.14" lengthAdjust="spacingAndGlyphs">50</text>
<line x1="920.8" y1="654.3" x2="927.4" y2="654.3" stroke="#000" stroke-width="2" stroke-linecap="butt"/>
<text x="918.8" y="662.15" font-size="21.63" text-anchor="end" class="h" textLength="34.71" lengthAdjust="spacingAndGlyphs">100</text>
<line x1="920.8" y1="580.7" x2="927.4" y2="580.7" stroke="#000" stroke-width="2" stroke-linecap="butt"/>
<text x="918.8" y="588.55" font-size="21.63" text-anchor="end" class="h" textLength="34.71" lengthAdjust="spacingAndGlyphs">150</text>
<line x1="1009.4" y1="801.5" x2="1009.4" y2="807.5" stroke="#000" stroke-width="2" stroke-linecap="butt"/>
<line x1="1175.3" y1="801.5" x2="1175.3" y2="807.5" stroke="#000" stroke-width="2" stroke-linecap="butt"/>
<text x="973.2" y="580.9" font-size="18.1" text-anchor="start" class="h" textLength="63.8" lengthAdjust="spacingAndGlyphs">p &lt; 0.01</text>
<line x1="947.95" y1="592" x2="1072.05" y2="592" stroke="#000" stroke-width="2.8" stroke-linecap="butt"/>
<line x1="949" y1="590.6" x2="949" y2="599.4" stroke="#000" stroke-width="2.1" stroke-linecap="butt"/>
<line x1="1071" y1="590.6" x2="1071" y2="732.4" stroke="#000" stroke-width="2.1" stroke-linecap="butt"/>
<text x="951.6" y="612" font-size="18.1" text-anchor="start" class="h" textLength="63.8" lengthAdjust="spacingAndGlyphs">p &lt; 0.01</text>
<line x1="947.95" y1="621" x2="999.35" y2="621" stroke="#000" stroke-width="2.5" stroke-linecap="butt"/>
<line x1="949" y1="619.75" x2="949" y2="629.5" stroke="#000" stroke-width="2.1" stroke-linecap="butt"/>
<line x1="998.3" y1="619.75" x2="998.3" y2="674.8" stroke="#000" stroke-width="2.1" stroke-linecap="butt"/>
<text x="1157.4" y="581" font-size="18.1" text-anchor="start" class="h" textLength="24.4" lengthAdjust="spacingAndGlyphs">NS</text>
<path d="M1113.8 597.7 V589.7 H1235.7 V639.8" fill="none" stroke="#000" stroke-width="2"/>
<text x="1125.4" y="612.8" font-size="18.1" text-anchor="start" class="h" textLength="24.4" lengthAdjust="spacingAndGlyphs">NS</text>
<path d="M1113.8 630.8 V622.3 H1165 V630.4" fill="none" stroke="#000" stroke-width="2"/>
<text x="1009" y="829.5" font-size="21.63" text-anchor="middle" class="h" textLength="84.2" lengthAdjust="spacingAndGlyphs">Parental</text>
<text x="1175.6" y="829.5" font-size="21.63" text-anchor="middle" class="h" textLength="108.8" lengthAdjust="spacingAndGlyphs">CASP8 KO</text>
<path d="M953.2 839 V844.9 H1240 V839 M1099.3 844.9 V852.8" fill="none" stroke="#000" stroke-width="2"/>
<text x="1044.9" y="876.6" font-size="21.63" text-anchor="start" class="h" textLength="118.6" lengthAdjust="spacingAndGlyphs">PE/CA-PJ49</text>
<text x="840.1" y="694.6" font-size="21.63" text-anchor="middle" transform="rotate(-90 840.1 694.6)" class="h" textLength="125.6" lengthAdjust="spacingAndGlyphs">% Cell growth</text>
<text x="864.5" y="688.4" font-size="21.63" text-anchor="middle" transform="rotate(-90 864.5 688.4)" class="h" textLength="174.2" lengthAdjust="spacingAndGlyphs">( rel. to no TRAIL)</text>
<text x="1449.8" y="519.3" font-size="44.8" text-anchor="start" class="big" textLength="30.4" lengthAdjust="spacingAndGlyphs">D</text>
<text x="1623" y="525.6" font-size="21.63" text-anchor="start" class="h" textLength="61.8" lengthAdjust="spacingAndGlyphs">24 hrs</text>
<rect x="1571.92" y="634.73" width="29.55" height="146.15" fill="#fff" stroke="#000" stroke-width="1.25"/>
<rect x="1606.52" y="710.19" width="29.55" height="70.68" fill="#000" stroke="#000" stroke-width="1.25"/>
<line x1="1586.7" y1="617.74" x2="1586.7" y2="650.9" stroke="#000" stroke-width="1.4" stroke-linecap="butt"/>
<line x1="1578.7" y1="617.74" x2="1594.7" y2="617.74" stroke="#000" stroke-width="1.4" stroke-linecap="butt"/>
<line x1="1578.7" y1="650.9" x2="1594.7" y2="650.9" stroke="#000" stroke-width="1.4" stroke-linecap="butt"/>
<line x1="1621.3" y1="703.38" x2="1621.3" y2="709.57" stroke="#000" stroke-width="1.4" stroke-linecap="butt"/>
<line x1="1613.3" y1="703.38" x2="1629.3" y2="703.38" stroke="#000" stroke-width="1.4" stroke-linecap="butt"/>
<rect x="1672.22" y="634.73" width="29.55" height="146.15" fill="#fff" stroke="#000" stroke-width="1.25"/>
<rect x="1706.82" y="656.69" width="29.55" height="124.19" fill="#000" stroke="#000" stroke-width="1.25"/>
<line x1="1687" y1="628.06" x2="1687" y2="640" stroke="#000" stroke-width="1.4" stroke-linecap="butt"/>
<line x1="1679" y1="628.06" x2="1695" y2="628.06" stroke="#000" stroke-width="1.4" stroke-linecap="butt"/>
<line x1="1679" y1="640" x2="1695" y2="640" stroke="#000" stroke-width="1.4" stroke-linecap="butt"/>
<line x1="1721.6" y1="654" x2="1721.6" y2="656.06" stroke="#000" stroke-width="1.4" stroke-linecap="butt"/>
<line x1="1713.6" y1="654" x2="1729.6" y2="654" stroke="#000" stroke-width="1.4" stroke-linecap="butt"/>
<line x1="1555.2" y1="559.4" x2="1555.2" y2="782.5" stroke="#000" stroke-width="2" stroke-linecap="butt"/>
<line x1="1548.6" y1="781.5" x2="1752.8" y2="781.5" stroke="#000" stroke-width="2" stroke-linecap="butt"/>
<line x1="1548.6" y1="781.5" x2="1555.2" y2="781.5" stroke="#000" stroke-width="2" stroke-linecap="butt"/>
<text x="1547.2" y="789.35" font-size="21.63" text-anchor="end" class="h" textLength="11.57" lengthAdjust="spacingAndGlyphs">0</text>
<line x1="1548.6" y1="707.8" x2="1555.2" y2="707.8" stroke="#000" stroke-width="2" stroke-linecap="butt"/>
<text x="1547.2" y="715.65" font-size="21.63" text-anchor="end" class="h" textLength="23.14" lengthAdjust="spacingAndGlyphs">50</text>
<line x1="1548.6" y1="634.1" x2="1555.2" y2="634.1" stroke="#000" stroke-width="2" stroke-linecap="butt"/>
<text x="1547.2" y="641.95" font-size="21.63" text-anchor="end" class="h" textLength="34.71" lengthAdjust="spacingAndGlyphs">100</text>
<line x1="1548.6" y1="560.4" x2="1555.2" y2="560.4" stroke="#000" stroke-width="2" stroke-linecap="butt"/>
<text x="1547.2" y="568.25" font-size="21.63" text-anchor="end" class="h" textLength="34.71" lengthAdjust="spacingAndGlyphs">150</text>
<line x1="1603" y1="781.5" x2="1603" y2="787.5" stroke="#000" stroke-width="2" stroke-linecap="butt"/>
<line x1="1703.5" y1="781.5" x2="1703.5" y2="787.5" stroke="#000" stroke-width="2" stroke-linecap="butt"/>
<text x="1603" y="809" font-size="22.15" text-anchor="middle" class="h" textLength="33.11" lengthAdjust="spacingAndGlyphs">WT</text>
<text x="1703.7" y="809" font-size="22.15" text-anchor="middle" class="h" textLength="67.49" lengthAdjust="spacingAndGlyphs">D303G</text>
<path d="M1563.8 817.2 V823.4 H1742.2 V817.2 M1655.7 823.4 V830.3" fill="none" stroke="#000" stroke-width="2"/>
<text x="1536.6" y="854.1" font-size="21.63" text-anchor="start" class="h" textLength="233.5" lengthAdjust="spacingAndGlyphs">PE/CA-PJ49-CASP8 KO</text>
<text x="1471.8" y="673.5" font-size="21.63" text-anchor="middle" transform="rotate(-90 1471.8 673.5)" class="h" textLength="125.6" lengthAdjust="spacingAndGlyphs">% Cell growth</text>
<text x="1495.8" y="667.5" font-size="21.63" text-anchor="middle" transform="rotate(-90 1495.8 667.5)" class="h" textLength="174.2" lengthAdjust="spacingAndGlyphs">( rel. to no TRAIL)</text>
<rect x="1776.05" y="547.05" width="23.3" height="15" fill="#fff" stroke="#000" stroke-width="1.3"/>
<rect x="1775.4" y="575.2" width="24.6" height="16.6" fill="#000"/>
<text x="1812.8" y="562.5" font-size="21.63" text-anchor="start" class="h" textLength="106.4" lengthAdjust="spacingAndGlyphs">DOX + Veh</text>
<text x="1812.8" y="591.6" font-size="21.63" text-anchor="start" class="h" textLength="130.4" lengthAdjust="spacingAndGlyphs">DOX + TRAIL</text>
</svg>
</body>
</html>
